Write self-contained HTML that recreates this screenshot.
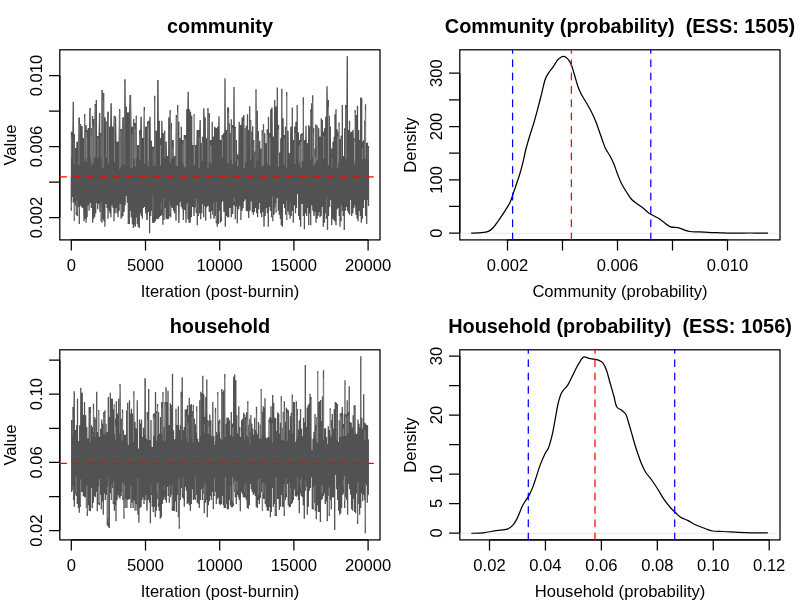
<!DOCTYPE html>
<html><head><meta charset="utf-8"><title>MCMC diagnostics</title><style>html,body{margin:0;padding:0;background:#fff;width:800px;height:600px;overflow:hidden}</style></head><body>
<svg width="800" height="600" viewBox="0 0 800 600" style="position:absolute;left:0;top:0">
<rect width="800" height="600" fill="#fff"/>
<g font-family='"Liberation Sans", Arial, Helvetica, sans-serif' font-size="16.60" fill="#000">
<rect x="59.80" y="49.80" width="320.20" height="190.10" fill="none" stroke="#000" stroke-width="1.25"/>
<path d="M71.30 239.90H368.10" stroke="#000" stroke-width="1.25" fill="none"/>
<path d="M71.30 239.90V250.60M145.50 239.90V250.60M219.70 239.90V250.60M293.90 239.90V250.60M368.10 239.90V250.60" stroke="#000" stroke-width="1.25" fill="none"/>
<text x="71.30" y="270.70" text-anchor="middle">0</text>
<text x="145.50" y="270.70" text-anchor="middle">5000</text>
<text x="219.70" y="270.70" text-anchor="middle">10000</text>
<text x="293.90" y="270.70" text-anchor="middle">15000</text>
<text x="368.10" y="270.70" text-anchor="middle">20000</text>
<text x="220" y="296.80" text-anchor="middle">Iteration (post-burnin)</text>
<text transform="translate(15.8 145.00) rotate(-90)" text-anchor="middle">Value</text>
<rect x="459.80" y="49.80" width="320.20" height="190.10" fill="none" stroke="#000" stroke-width="1.25"/>
<text transform="translate(415.8 145.00) rotate(-90)" text-anchor="middle">Density</text>
<rect x="59.80" y="349.80" width="320.20" height="190.10" fill="none" stroke="#000" stroke-width="1.25"/>
<path d="M71.30 539.90H368.10" stroke="#000" stroke-width="1.25" fill="none"/>
<path d="M71.30 539.90V550.60M145.50 539.90V550.60M219.70 539.90V550.60M293.90 539.90V550.60M368.10 539.90V550.60" stroke="#000" stroke-width="1.25" fill="none"/>
<text x="71.30" y="570.70" text-anchor="middle">0</text>
<text x="145.50" y="570.70" text-anchor="middle">5000</text>
<text x="219.70" y="570.70" text-anchor="middle">10000</text>
<text x="293.90" y="570.70" text-anchor="middle">15000</text>
<text x="368.10" y="570.70" text-anchor="middle">20000</text>
<text x="220" y="596.80" text-anchor="middle">Iteration (post-burnin)</text>
<text transform="translate(15.8 445.00) rotate(-90)" text-anchor="middle">Value</text>
<rect x="459.80" y="349.80" width="320.20" height="190.10" fill="none" stroke="#000" stroke-width="1.25"/>
<text transform="translate(415.8 445.00) rotate(-90)" text-anchor="middle">Density</text>
<path d="M59.80 217.50V75.50" stroke="#000" stroke-width="1.25" fill="none"/>
<path d="M59.80 217.50H49.10M59.80 182.00H49.10M59.80 146.50H49.10M59.80 111.00H49.10M59.80 75.50H49.10" stroke="#000" stroke-width="1.25" fill="none"/>
<text transform="translate(41.70 217.50) rotate(-90)" text-anchor="middle">0.002</text>
<text transform="translate(41.70 146.50) rotate(-90)" text-anchor="middle">0.006</text>
<text transform="translate(41.70 75.50) rotate(-90)" text-anchor="middle">0.010</text>
<path d="M59.80 530.71V360.01" stroke="#000" stroke-width="1.25" fill="none"/>
<path d="M59.80 530.71H49.10M59.80 496.57H49.10M59.80 462.43H49.10M59.80 428.29H49.10M59.80 394.15H49.10M59.80 360.01H49.10" stroke="#000" stroke-width="1.25" fill="none"/>
<text transform="translate(41.70 530.71) rotate(-90)" text-anchor="middle">0.02</text>
<text transform="translate(41.70 462.43) rotate(-90)" text-anchor="middle">0.06</text>
<text transform="translate(41.70 394.15) rotate(-90)" text-anchor="middle">0.10</text>
<path d="M459.80 233.10V73.20" stroke="#000" stroke-width="1.25" fill="none"/>
<path d="M459.80 233.10H449.10M459.80 206.45H449.10M459.80 179.80H449.10M459.80 153.15H449.10M459.80 126.50H449.10M459.80 99.85H449.10M459.80 73.20H449.10" stroke="#000" stroke-width="1.25" fill="none"/>
<text transform="translate(441.70 233.10) rotate(-90)" text-anchor="middle">0</text>
<text transform="translate(441.70 179.80) rotate(-90)" text-anchor="middle">100</text>
<text transform="translate(441.70 126.50) rotate(-90)" text-anchor="middle">200</text>
<text transform="translate(441.70 73.20) rotate(-90)" text-anchor="middle">300</text>
<path d="M507.50 239.90H727.50" stroke="#000" stroke-width="1.25" fill="none"/>
<path d="M507.50 239.90V250.60M562.50 239.90V250.60M617.50 239.90V250.60M672.50 239.90V250.60M727.50 239.90V250.60" stroke="#000" stroke-width="1.25" fill="none"/>
<text x="507.50" y="270.70" text-anchor="middle">0.002</text>
<text x="617.50" y="270.70" text-anchor="middle">0.006</text>
<text x="727.50" y="270.70" text-anchor="middle">0.010</text>
<text x="620" y="296.8" text-anchor="middle">Community (probability)</text>
<path d="M459.80 533.00V356.00" stroke="#000" stroke-width="1.25" fill="none"/>
<path d="M459.80 533.00H449.10M459.80 503.50H449.10M459.80 474.00H449.10M459.80 444.50H449.10M459.80 415.00H449.10M459.80 385.50H449.10M459.80 356.00H449.10" stroke="#000" stroke-width="1.25" fill="none"/>
<text transform="translate(441.70 533.00) rotate(-90)" text-anchor="middle">0</text>
<text transform="translate(441.70 503.50) rotate(-90)" text-anchor="middle">5</text>
<text transform="translate(441.70 474.00) rotate(-90)" text-anchor="middle">10</text>
<text transform="translate(441.70 415.00) rotate(-90)" text-anchor="middle">20</text>
<text transform="translate(441.70 356.00) rotate(-90)" text-anchor="middle">30</text>
<path d="M489.50 539.90H769.20" stroke="#000" stroke-width="1.25" fill="none"/>
<path d="M489.50 539.90V550.60M545.44 539.90V550.60M601.38 539.90V550.60M657.32 539.90V550.60M713.26 539.90V550.60M769.20 539.90V550.60" stroke="#000" stroke-width="1.25" fill="none"/>
<text x="489.50" y="570.70" text-anchor="middle">0.02</text>
<text x="545.44" y="570.70" text-anchor="middle">0.04</text>
<text x="601.38" y="570.70" text-anchor="middle">0.06</text>
<text x="657.32" y="570.70" text-anchor="middle">0.08</text>
<text x="713.26" y="570.70" text-anchor="middle">0.10</text>
<text x="769.20" y="570.70" text-anchor="middle">0.12</text>
<text x="620" y="596.8" text-anchor="middle">Household (probability)</text>
</g>
<g font-family='"Liberation Sans", Arial, Helvetica, sans-serif' font-size="19.90" font-weight="bold" fill="#000" text-anchor="middle">
<text x="220" y="32.7">community</text>
<text x="620" y="32.7" xml:space="preserve" style="white-space:pre">Community (probability)  (ESS: 1505)</text>
<text x="220" y="332.7">household</text>
<text x="620" y="332.7" xml:space="preserve" style="white-space:pre">Household (probability)  (ESS: 1056)</text>
</g>
<path d="M71.5,131.7 L72.0,131.7 L72.5,131.7 L73.0,101.7 L73.5,134.0 L74.0,134.0 L74.5,148.0 L75.0,148.0 L75.5,148.0 L76.0,148.0 L76.5,148.0 L77.0,141.7 L77.5,141.7 L78.0,141.7 L78.5,117.5 L79.0,117.5 L79.5,124.0 L80.0,124.0 L80.5,124.0 L81.0,126.0 L81.5,126.0 L82.0,126.0 L82.5,138.0 L83.0,138.0 L83.5,138.0 L84.0,138.0 L84.5,114.0 L85.0,125.0 L85.5,125.0 L86.0,125.0 L86.5,130.0 L87.0,130.0 L87.5,130.0 L88.0,130.0 L88.5,128.0 L89.0,128.0 L89.5,108.0 L90.0,108.0 L90.5,128.0 L91.0,128.0 L91.5,128.0 L92.0,128.0 L92.5,116.0 L93.0,119.0 L93.5,119.0 L94.0,119.0 L94.5,119.0 L95.0,104.0 L95.5,104.0 L96.0,104.0 L96.5,100.0 L97.0,136.0 L97.5,136.0 L98.0,136.0 L98.5,136.0 L99.0,113.0 L99.5,113.0 L100.0,133.0 L100.5,133.0 L101.0,133.0 L101.5,133.0 L102.0,90.0 L102.5,90.0 L103.0,93.0 L103.5,93.0 L104.0,117.5 L104.5,117.5 L105.0,117.5 L105.5,121.7 L106.0,121.7 L106.5,121.7 L107.0,121.7 L107.5,111.7 L108.0,111.7 L108.5,111.7 L109.0,126.7 L109.5,126.7 L110.0,126.7 L110.5,126.7 L111.0,103.3 L111.5,103.3 L112.0,126.7 L112.5,126.7 L113.0,126.7 L113.5,126.7 L114.0,115.8 L114.5,116.7 L115.0,116.7 L115.5,116.7 L116.0,116.7 L116.5,141.7 L117.0,141.7 L117.5,141.7 L118.0,141.7 L118.5,141.7 L119.0,109.0 L119.5,109.0 L120.0,129.0 L120.5,129.0 L121.0,129.0 L121.5,129.0 L122.0,129.0 L122.5,117.5 L123.0,117.5 L123.5,117.5 L124.0,117.5 L124.5,79.2 L125.0,79.2 L125.5,106.7 L126.0,106.7 L126.5,106.7 L127.0,112.5 L127.5,112.5 L128.0,112.5 L128.5,112.5 L129.0,112.5 L129.5,95.0 L130.0,95.0 L130.5,95.0 L131.0,95.0 L131.5,126.7 L132.0,126.7 L132.5,126.7 L133.0,126.7 L133.5,119.0 L134.0,123.0 L134.5,123.0 L135.0,123.0 L135.5,123.0 L136.0,123.0 L136.5,115.8 L137.0,145.0 L137.5,145.0 L138.0,145.0 L138.5,145.0 L139.0,145.0 L139.5,130.0 L140.0,130.0 L140.5,130.0 L141.0,116.7 L141.5,116.7 L142.0,138.0 L142.5,138.0 L143.0,138.0 L143.5,138.0 L144.0,107.0 L144.5,107.0 L145.0,126.7 L145.5,126.7 L146.0,126.7 L146.5,126.7 L147.0,126.7 L147.5,121.7 L148.0,121.7 L148.5,121.7 L149.0,120.8 L149.5,120.8 L150.0,116.7 L150.5,140.8 L151.0,140.8 L151.5,140.8 L152.0,146.7 L152.5,146.7 L153.0,146.7 L153.5,146.7 L154.0,146.7 L154.5,95.8 L155.0,130.8 L155.5,130.8 L156.0,130.8 L156.5,130.8 L157.0,130.8 L157.5,80.0 L158.0,80.0 L158.5,120.8 L159.0,120.8 L159.5,138.3 L160.0,138.3 L160.5,138.3 L161.0,138.3 L161.5,138.3 L162.0,120.8 L162.5,133.3 L163.0,133.3 L163.5,133.3 L164.0,133.3 L164.5,130.5 L165.0,141.7 L165.5,141.7 L166.0,141.7 L166.5,141.7 L167.0,156.0 L167.5,156.0 L168.0,156.0 L168.5,156.0 L169.0,117.5 L169.5,117.5 L170.0,110.0 L170.5,123.3 L171.0,123.3 L171.5,123.3 L172.0,140.0 L172.5,140.0 L173.0,140.0 L173.5,140.0 L174.0,156.0 L174.5,156.0 L175.0,156.0 L175.5,156.0 L176.0,115.0 L176.5,115.0 L177.0,115.0 L177.5,105.0 L178.0,121.7 L178.5,121.7 L179.0,138.3 L179.5,138.3 L180.0,138.3 L180.5,138.3 L181.0,138.3 L181.5,126.7 L182.0,140.0 L182.5,140.0 L183.0,140.0 L183.5,140.0 L184.0,140.0 L184.5,135.0 L185.0,135.0 L185.5,135.0 L186.0,135.0 L186.5,135.0 L187.0,109.2 L187.5,109.2 L188.0,91.7 L188.5,109.2 L189.0,109.2 L189.5,111.7 L190.0,111.7 L190.5,111.7 L191.0,115.8 L191.5,115.8 L192.0,145.0 L192.5,145.0 L193.0,145.0 L193.5,145.0 L194.0,145.0 L194.5,145.0 L195.0,145.0 L195.5,145.0 L196.0,145.0 L196.5,145.0 L197.0,130.0 L197.5,130.0 L198.0,130.0 L198.5,130.0 L199.0,130.0 L199.5,130.0 L200.0,120.0 L200.5,143.3 L201.0,143.3 L201.5,143.3 L202.0,143.3 L202.5,136.7 L203.0,136.7 L203.5,136.7 L204.0,108.3 L204.5,117.5 L205.0,117.5 L205.5,138.3 L206.0,138.3 L206.5,138.3 L207.0,138.3 L207.5,108.3 L208.0,108.3 L208.5,113.3 L209.0,113.3 L209.5,113.3 L210.0,140.0 L210.5,140.0 L211.0,140.0 L211.5,140.0 L212.0,140.0 L212.5,136.7 L213.0,136.7 L213.5,136.7 L214.0,136.7 L214.5,136.7 L215.0,126.7 L215.5,128.3 L216.0,128.3 L216.5,128.3 L217.0,128.3 L217.5,126.7 L218.0,126.7 L218.5,126.7 L219.0,116.3 L219.5,140.0 L220.0,140.0 L220.5,140.0 L221.0,140.0 L221.5,140.0 L222.0,135.0 L222.5,135.0 L223.0,135.0 L223.5,133.3 L224.0,133.3 L224.5,133.3 L225.0,78.3 L225.5,130.0 L226.0,130.0 L226.5,130.0 L227.0,130.0 L227.5,107.5 L228.0,107.5 L228.5,123.3 L229.0,123.3 L229.5,133.3 L230.0,133.3 L230.5,133.3 L231.0,133.3 L231.5,125.0 L232.0,125.0 L232.5,125.0 L233.0,125.0 L233.5,125.0 L234.0,87.0 L234.5,126.7 L235.0,126.7 L235.5,140.0 L236.0,140.0 L236.5,140.0 L237.0,156.0 L237.5,156.0 L238.0,156.0 L238.5,156.0 L239.0,121.7 L239.5,125.0 L240.0,125.0 L240.5,125.0 L241.0,125.0 L241.5,125.0 L242.0,117.5 L242.5,117.5 L243.0,117.5 L243.5,115.0 L244.0,115.0 L244.5,128.3 L245.0,128.3 L245.5,128.3 L246.0,128.3 L246.5,125.8 L247.0,125.8 L247.5,130.0 L248.0,130.0 L248.5,130.0 L249.0,130.0 L249.5,130.0 L250.0,120.0 L250.5,120.0 L251.0,131.7 L251.5,131.7 L252.0,131.7 L252.5,131.7 L253.0,140.0 L253.5,140.0 L254.0,156.0 L254.5,156.0 L255.0,156.0 L255.5,156.0 L256.0,89.2 L256.5,110.8 L257.0,110.8 L257.5,131.3 L258.0,131.3 L258.5,131.3 L259.0,140.8 L259.5,140.8 L260.0,156.0 L260.5,156.0 L261.0,156.0 L261.5,156.0 L262.0,156.0 L262.5,130.0 L263.0,130.0 L263.5,124.2 L264.0,133.3 L264.5,133.3 L265.0,143.3 L265.5,143.3 L266.0,143.3 L266.5,143.3 L267.0,143.3 L267.5,129.2 L268.0,129.2 L268.5,116.7 L269.0,133.3 L269.5,133.3 L270.0,133.3 L270.5,133.3 L271.0,109.2 L271.5,109.2 L272.0,107.5 L272.5,136.7 L273.0,136.7 L273.5,136.7 L274.0,136.7 L274.5,100.0 L275.0,106.7 L275.5,106.7 L276.0,106.7 L276.5,106.7 L277.0,106.7 L277.5,125.0 L278.0,125.0 L278.5,125.0 L279.0,156.0 L279.5,156.0 L280.0,156.0 L280.5,156.0 L281.0,138.3 L281.5,138.3 L282.0,118.3 L282.5,118.3 L283.0,118.3 L283.5,135.0 L284.0,135.0 L284.5,135.0 L285.0,135.0 L285.5,126.7 L286.0,126.7 L286.5,126.7 L287.0,130.8 L287.5,130.8 L288.0,130.8 L288.5,156.0 L289.0,156.0 L289.5,156.0 L290.0,156.0 L290.5,126.7 L291.0,126.7 L291.5,126.7 L292.0,126.7 L292.5,140.0 L293.0,140.0 L293.5,140.0 L294.0,140.0 L294.5,140.0 L295.0,126.7 L295.5,126.7 L296.0,121.7 L296.5,121.7 L297.0,121.7 L297.5,132.5 L298.0,132.5 L298.5,132.5 L299.0,140.0 L299.5,140.0 L300.0,140.0 L300.5,140.0 L301.0,134.2 L301.5,134.2 L302.0,133.3 L302.5,133.3 L303.0,133.3 L303.5,97.2 L304.0,140.0 L304.5,140.0 L305.0,140.0 L305.5,140.0 L306.0,125.8 L306.5,143.3 L307.0,143.3 L307.5,143.3 L308.0,143.3 L308.5,125.3 L309.0,126.7 L309.5,126.7 L310.0,126.7 L310.5,126.7 L311.0,109.2 L311.5,109.2 L312.0,103.3 L312.5,103.3 L313.0,128.3 L313.5,128.3 L314.0,156.0 L314.5,156.0 L315.0,156.0 L315.5,156.0 L316.0,156.0 L316.5,125.8 L317.0,125.8 L317.5,125.8 L318.0,128.3 L318.5,128.3 L319.0,136.7 L319.5,136.7 L320.0,136.7 L320.5,136.7 L321.0,136.7 L321.5,120.0 L322.0,120.0 L322.5,131.7 L323.0,131.7 L323.5,131.7 L324.0,131.7 L324.5,128.3 L325.0,128.3 L325.5,128.3 L326.0,116.7 L326.5,116.7 L327.0,86.3 L327.5,100.0 L328.0,100.0 L328.5,115.8 L329.0,115.8 L329.5,126.7 L330.0,126.7 L330.5,126.7 L331.0,156.0 L331.5,156.0 L332.0,156.0 L332.5,156.0 L333.0,141.7 L333.5,141.7 L334.0,141.7 L334.5,136.7 L335.0,136.7 L335.5,114.2 L336.0,129.2 L336.5,129.2 L337.0,131.7 L337.5,131.7 L338.0,131.7 L338.5,131.7 L339.0,139.2 L339.5,139.2 L340.0,139.2 L340.5,139.2 L341.0,139.2 L341.5,135.8 L342.0,135.8 L342.5,105.0 L343.0,156.0 L343.5,156.0 L344.0,156.0 L344.5,156.0 L345.0,128.3 L345.5,128.3 L346.0,105.0 L346.5,105.0 L347.0,56.3 L347.5,56.3 L348.0,130.0 L348.5,130.0 L349.0,130.0 L349.5,132.5 L350.0,132.5 L350.5,132.5 L351.0,132.5 L351.5,131.7 L352.0,131.7 L352.5,131.7 L353.0,130.0 L353.5,138.3 L354.0,138.3 L354.5,138.3 L355.0,138.3 L355.5,115.0 L356.0,115.0 L356.5,115.0 L357.0,115.0 L357.5,105.8 L358.0,130.0 L358.5,130.0 L359.0,140.0 L359.5,140.0 L360.0,140.0 L360.5,140.0 L361.0,98.3 L361.5,98.3 L362.0,141.7 L362.5,141.7 L363.0,141.7 L363.5,141.7 L364.0,140.0 L364.5,140.0 L365.0,120.8 L365.5,120.8 L366.0,143.3 L366.5,143.3 L367.0,143.3 L367.5,146.0 L368.0,146.0 L368.0,200.0 L367.5,200.0 L367.0,200.0 L366.5,216.0 L366.0,216.0 L365.5,200.0 L365.0,200.0 L364.5,200.0 L364.0,200.0 L363.5,200.0 L363.0,208.0 L362.5,208.0 L362.0,218.7 L361.5,218.7 L361.0,216.0 L360.5,216.0 L360.0,210.7 L359.5,210.7 L359.0,210.7 L358.5,210.7 L358.0,218.7 L357.5,218.7 L357.0,214.7 L356.5,214.7 L356.0,214.7 L355.5,205.3 L355.0,205.3 L354.5,205.3 L354.0,205.3 L353.5,208.0 L353.0,208.0 L352.5,213.3 L352.0,213.3 L351.5,200.0 L351.0,200.0 L350.5,200.0 L350.0,200.0 L349.5,213.3 L349.0,213.3 L348.5,210.7 L348.0,210.7 L347.5,210.7 L347.0,206.7 L346.5,206.7 L346.0,206.7 L345.5,206.7 L345.0,210.7 L344.5,210.7 L344.0,216.0 L343.5,216.0 L343.0,210.7 L342.5,210.7 L342.0,210.7 L341.5,210.7 L341.0,221.3 L340.5,221.3 L340.0,216.0 L339.5,216.0 L339.0,208.0 L338.5,208.0 L338.0,208.0 L337.5,208.0 L337.0,209.3 L336.5,209.3 L336.0,225.3 L335.5,221.3 L335.0,221.3 L334.5,220.0 L334.0,220.0 L333.5,218.7 L333.0,218.7 L332.5,218.7 L332.0,218.7 L331.5,200.0 L331.0,200.0 L330.5,200.0 L330.0,200.0 L329.5,206.7 L329.0,206.7 L328.5,216.0 L328.0,216.0 L327.5,216.0 L327.0,218.7 L326.5,218.7 L326.0,213.3 L325.5,213.3 L325.0,213.3 L324.5,213.3 L324.0,222.7 L323.5,222.7 L323.0,206.7 L322.5,206.7 L322.0,206.7 L321.5,206.7 L321.0,216.0 L320.5,216.0 L320.0,212.0 L319.5,212.0 L319.0,212.0 L318.5,212.0 L318.0,216.0 L317.5,216.0 L317.0,216.0 L316.5,218.7 L316.0,212.0 L315.5,212.0 L315.0,212.0 L314.5,212.0 L314.0,216.0 L313.5,210.7 L313.0,210.7 L312.5,205.3 L312.0,205.3 L311.5,205.3 L311.0,205.3 L310.5,213.3 L310.0,213.3 L309.5,213.3 L309.0,213.3 L308.5,208.0 L308.0,208.0 L307.5,208.0 L307.0,208.0 L306.5,213.3 L306.0,213.3 L305.5,213.3 L305.0,213.3 L304.5,229.3 L304.0,216.0 L303.5,216.0 L303.0,204.0 L302.5,204.0 L302.0,204.0 L301.5,204.0 L301.0,204.0 L300.5,220.0 L300.0,220.0 L299.5,216.0 L299.0,216.0 L298.5,194.0 L298.0,194.0 L297.5,194.0 L297.0,194.0 L296.5,208.0 L296.0,208.0 L295.5,208.0 L295.0,205.3 L294.5,205.3 L294.0,205.3 L293.5,205.3 L293.0,210.7 L292.5,210.7 L292.0,210.7 L291.5,210.7 L291.0,216.0 L290.5,216.0 L290.0,214.7 L289.5,214.7 L289.0,211.3 L288.5,211.3 L288.0,211.3 L287.5,211.3 L287.0,211.3 L286.5,214.7 L286.0,214.7 L285.5,208.0 L285.0,208.0 L284.5,204.0 L284.0,204.0 L283.5,204.0 L283.0,204.0 L282.5,204.0 L282.0,225.3 L281.5,225.3 L281.0,218.7 L280.5,218.7 L280.0,214.7 L279.5,214.7 L279.0,210.7 L278.5,210.7 L278.0,198.0 L277.5,198.0 L277.0,198.0 L276.5,198.0 L276.0,207.3 L275.5,207.3 L275.0,207.3 L274.5,207.3 L274.0,214.7 L273.5,214.7 L273.0,214.7 L272.5,217.3 L272.0,217.3 L271.5,217.3 L271.0,210.7 L270.5,210.7 L270.0,206.7 L269.5,206.7 L269.0,206.7 L268.5,206.7 L268.0,213.3 L267.5,213.3 L267.0,208.0 L266.5,208.0 L266.0,208.0 L265.5,208.0 L265.0,216.0 L264.5,216.0 L264.0,226.7 L263.5,212.0 L263.0,212.0 L262.5,212.0 L262.0,212.0 L261.5,213.3 L261.0,213.3 L260.5,202.7 L260.0,202.7 L259.5,202.7 L259.0,202.7 L258.5,209.3 L258.0,209.3 L257.5,213.3 L257.0,213.3 L256.5,208.0 L256.0,208.0 L255.5,208.0 L255.0,208.0 L254.5,212.0 L254.0,212.0 L253.5,212.0 L253.0,212.0 L252.5,212.0 L252.0,201.3 L251.5,201.3 L251.0,201.3 L250.5,201.3 L250.0,210.7 L249.5,210.7 L249.0,210.7 L248.5,218.0 L248.0,211.3 L247.5,211.3 L247.0,210.7 L246.5,210.7 L246.0,199.3 L245.5,199.3 L245.0,199.3 L244.5,199.3 L244.0,201.3 L243.5,201.3 L243.0,201.3 L242.5,208.0 L242.0,210.7 L241.5,210.7 L241.0,210.7 L240.5,206.0 L240.0,206.0 L239.5,206.0 L239.0,206.0 L238.5,209.3 L238.0,209.3 L237.5,223.3 L237.0,206.7 L236.5,206.7 L236.0,206.7 L235.5,206.7 L235.0,205.3 L234.5,205.3 L234.0,205.3 L233.5,205.3 L233.0,205.3 L232.5,214.0 L232.0,214.0 L231.5,217.3 L231.0,208.0 L230.5,208.0 L230.0,208.0 L229.5,208.0 L229.0,208.0 L228.5,217.3 L228.0,217.3 L227.5,216.0 L227.0,216.0 L226.5,216.0 L226.0,216.0 L225.5,226.7 L225.0,212.0 L224.5,212.0 L224.0,212.0 L223.5,201.3 L223.0,201.3 L222.5,201.3 L222.0,201.3 L221.5,221.3 L221.0,221.3 L220.5,221.3 L220.0,210.7 L219.5,210.7 L219.0,210.7 L218.5,210.7 L218.0,224.0 L217.5,224.0 L217.0,223.3 L216.5,223.3 L216.0,216.0 L215.5,216.0 L215.0,216.0 L214.5,216.0 L214.0,218.7 L213.5,214.7 L213.0,214.7 L212.5,210.7 L212.0,210.7 L211.5,210.7 L211.0,210.7 L210.5,218.7 L210.0,212.0 L209.5,212.0 L209.0,206.0 L208.5,206.0 L208.0,206.0 L207.5,206.0 L207.0,206.0 L206.5,207.3 L206.0,207.3 L205.5,206.0 L205.0,206.0 L204.5,206.0 L204.0,206.0 L203.5,204.0 L203.0,204.0 L202.5,204.0 L202.0,204.0 L201.5,213.3 L201.0,213.3 L200.5,213.3 L200.0,213.3 L199.5,213.3 L199.0,213.3 L198.5,213.3 L198.0,216.0 L197.5,216.0 L197.0,212.7 L196.5,212.7 L196.0,207.3 L195.5,207.3 L195.0,207.3 L194.5,207.3 L194.0,216.0 L193.5,206.7 L193.0,206.7 L192.5,206.7 L192.0,206.7 L191.5,217.3 L191.0,217.3 L190.5,217.3 L190.0,222.7 L189.5,222.7 L189.0,219.3 L188.5,219.3 L188.0,203.3 L187.5,203.3 L187.0,203.3 L186.5,203.3 L186.0,222.7 L185.5,210.0 L185.0,210.0 L184.5,210.0 L184.0,210.0 L183.5,220.0 L183.0,208.7 L182.5,208.7 L182.0,206.7 L181.5,206.7 L181.0,202.0 L180.5,202.0 L180.0,202.0 L179.5,202.0 L179.0,222.7 L178.5,222.7 L178.0,205.3 L177.5,205.3 L177.0,205.3 L176.5,205.3 L176.0,220.7 L175.5,213.3 L175.0,213.3 L174.5,210.7 L174.0,210.7 L173.5,208.0 L173.0,208.0 L172.5,207.3 L172.0,207.3 L171.5,207.3 L171.0,207.3 L170.5,216.0 L170.0,216.0 L169.5,216.0 L169.0,216.0 L168.5,218.7 L168.0,218.7 L167.5,219.3 L167.0,218.7 L166.5,218.7 L166.0,208.0 L165.5,208.0 L165.0,208.0 L164.5,208.0 L164.0,220.0 L163.5,220.0 L163.0,220.0 L162.5,214.7 L162.0,214.7 L161.5,214.7 L161.0,214.7 L160.5,216.0 L160.0,216.0 L159.5,217.3 L159.0,217.3 L158.5,217.3 L158.0,219.3 L157.5,218.7 L157.0,218.7 L156.5,218.7 L156.0,218.7 L155.5,221.3 L155.0,221.3 L154.5,221.3 L154.0,222.7 L153.5,222.7 L153.0,222.7 L152.5,210.7 L152.0,210.7 L151.5,210.7 L151.0,210.7 L150.5,216.0 L150.0,216.0 L149.5,212.0 L149.0,212.0 L148.5,212.0 L148.0,212.0 L147.5,220.0 L147.0,220.0 L146.5,213.3 L146.0,213.3 L145.5,206.7 L145.0,206.7 L144.5,206.7 L144.0,206.7 L143.5,208.0 L143.0,208.0 L142.5,208.0 L142.0,216.0 L141.5,216.0 L141.0,213.3 L140.5,213.3 L140.0,213.3 L139.5,213.3 L139.0,226.7 L138.5,226.7 L138.0,224.0 L137.5,224.0 L137.0,217.3 L136.5,217.3 L136.0,217.3 L135.5,217.3 L135.0,225.3 L134.5,225.3 L134.0,225.3 L133.5,225.3 L133.0,224.0 L132.5,224.0 L132.0,217.3 L131.5,217.3 L131.0,210.7 L130.5,210.7 L130.0,210.7 L129.5,210.7 L129.0,224.0 L128.5,224.0 L128.0,202.7 L127.5,202.7 L127.0,196.0 L126.5,196.0 L126.0,196.0 L125.5,196.0 L125.0,205.3 L124.5,205.3 L124.0,212.0 L123.5,212.0 L123.0,212.0 L122.5,216.0 L122.0,216.0 L121.5,217.3 L121.0,204.0 L120.5,204.0 L120.0,204.0 L119.5,204.0 L119.0,204.0 L118.5,210.7 L118.0,213.3 L117.5,213.3 L117.0,208.0 L116.5,208.0 L116.0,208.0 L115.5,208.0 L115.0,208.0 L114.5,213.3 L114.0,208.0 L113.5,208.0 L113.0,205.3 L112.5,205.3 L112.0,205.3 L111.5,205.3 L111.0,205.3 L110.5,213.3 L110.0,210.7 L109.5,210.7 L109.0,210.7 L108.5,210.7 L108.0,208.0 L107.5,208.0 L107.0,204.0 L106.5,204.0 L106.0,204.0 L105.5,204.0 L105.0,204.0 L104.5,221.3 L104.0,221.3 L103.5,218.7 L103.0,218.7 L102.5,218.7 L102.0,218.7 L101.5,221.3 L101.0,212.0 L100.5,212.0 L100.0,212.0 L99.5,204.0 L99.0,204.0 L98.5,204.0 L98.0,204.0 L97.5,202.7 L97.0,202.7 L96.5,202.7 L96.0,202.7 L95.5,213.3 L95.0,213.3 L94.5,216.7 L94.0,216.7 L93.5,218.7 L93.0,218.7 L92.5,222.7 L92.0,208.0 L91.5,208.0 L91.0,202.7 L90.5,202.7 L90.0,202.7 L89.5,202.7 L89.0,202.7 L88.5,205.3 L88.0,205.3 L87.5,205.3 L87.0,205.3 L86.5,217.3 L86.0,218.7 L85.5,218.7 L85.0,218.7 L84.5,218.7 L84.0,218.7 L83.5,208.0 L83.0,208.0 L82.5,208.0 L82.0,206.7 L81.5,206.7 L81.0,205.3 L80.5,205.3 L80.0,205.3 L79.5,205.3 L79.0,206.7 L78.5,206.7 L78.0,206.7 L77.5,206.7 L77.0,214.7 L76.5,214.7 L76.0,205.3 L75.5,205.3 L75.0,205.3 L74.5,205.3 L74.0,202.7 L73.5,202.7 L73.0,197.0 L72.5,197.0 L72.0,197.0 L71.5,197.0Z" fill="#525252"/>
<path d="M71.7,420.0 L72.2,420.0 L72.7,420.0 L73.2,407.0 L73.7,407.0 L74.2,391.2 L74.7,430.3 L75.2,430.3 L75.7,430.3 L76.2,430.3 L76.7,425.3 L77.2,425.3 L77.7,441.2 L78.2,441.2 L78.7,441.2 L79.2,441.2 L79.7,441.2 L80.2,425.3 L80.7,425.3 L81.2,392.8 L81.7,392.8 L82.2,392.8 L82.7,415.0 L83.2,415.0 L83.7,415.0 L84.2,415.0 L84.7,415.3 L85.2,415.3 L85.7,415.3 L86.2,427.3 L86.7,427.3 L87.2,438.7 L87.7,438.7 L88.2,438.7 L88.7,438.7 L89.2,407.0 L89.7,407.0 L90.2,407.0 L90.7,425.3 L91.2,425.3 L91.7,427.0 L92.2,427.0 L92.7,427.0 L93.2,427.0 L93.7,417.0 L94.2,417.0 L94.7,419.5 L95.2,419.5 L95.7,419.5 L96.2,419.5 L96.7,432.0 L97.2,432.0 L97.7,432.0 L98.2,432.0 L98.7,437.0 L99.2,437.0 L99.7,437.0 L100.2,437.0 L100.7,437.0 L101.2,428.7 L101.7,428.7 L102.2,423.7 L102.7,423.7 L103.2,423.7 L103.7,423.7 L104.2,412.0 L104.7,412.0 L105.2,423.7 L105.7,423.7 L106.2,432.0 L106.7,432.0 L107.2,432.0 L107.7,432.0 L108.2,432.0 L108.7,417.0 L109.2,417.0 L109.7,417.0 L110.2,417.0 L110.7,398.7 L111.2,398.7 L111.7,398.7 L112.2,398.7 L112.7,409.5 L113.2,409.5 L113.7,409.5 L114.2,409.5 L114.7,418.7 L115.2,418.7 L115.7,418.7 L116.2,418.7 L116.7,413.7 L117.2,413.7 L117.7,413.7 L118.2,413.7 L118.7,398.7 L119.2,398.7 L119.7,398.7 L120.2,384.0 L120.7,418.7 L121.2,418.7 L121.7,418.7 L122.2,418.7 L122.7,430.3 L123.2,430.3 L123.7,435.3 L124.2,435.3 L124.7,435.3 L125.2,435.3 L125.7,435.3 L126.2,434.5 L126.7,434.5 L127.2,410.3 L127.7,445.3 L128.2,445.3 L128.7,445.3 L129.2,445.3 L129.7,413.7 L130.2,413.7 L130.7,413.7 L131.2,413.7 L131.7,413.7 L132.2,413.7 L132.7,413.7 L133.2,413.7 L133.7,413.7 L134.2,422.0 L134.7,422.0 L135.2,428.7 L135.7,428.7 L136.2,428.7 L136.7,428.7 L137.2,428.7 L137.7,448.7 L138.2,448.7 L138.7,448.7 L139.2,448.7 L139.7,423.7 L140.2,423.7 L140.7,423.7 L141.2,423.7 L141.7,437.0 L142.2,437.0 L142.7,437.0 L143.2,437.0 L143.7,427.8 L144.2,427.8 L144.7,378.3 L145.2,378.3 L145.7,438.7 L146.2,438.7 L146.7,438.7 L147.2,438.7 L147.7,412.0 L148.2,412.0 L148.7,389.0 L149.2,440.3 L149.7,440.3 L150.2,440.3 L150.7,440.3 L151.2,447.0 L151.7,447.0 L152.2,447.0 L152.7,447.0 L153.2,447.0 L153.7,414.0 L154.2,414.0 L154.7,413.3 L155.2,413.3 L155.7,411.2 L156.2,411.2 L156.7,411.2 L157.2,411.2 L157.7,412.0 L158.2,412.0 L158.7,433.7 L159.2,433.7 L159.7,433.7 L160.2,433.7 L160.7,417.0 L161.2,417.0 L161.7,402.0 L162.2,402.0 L162.7,402.0 L163.2,427.0 L163.7,427.0 L164.2,427.0 L164.7,427.0 L165.2,427.0 L165.7,402.0 L166.2,402.0 L166.7,402.0 L167.2,402.0 L167.7,402.0 L168.2,425.3 L168.7,425.3 L169.2,425.3 L169.7,425.3 L170.2,425.3 L170.7,405.3 L171.2,405.3 L171.7,405.3 L172.2,405.3 L172.7,430.3 L173.2,430.3 L173.7,439.5 L174.2,439.5 L174.7,439.5 L175.2,439.5 L175.7,439.5 L176.2,425.3 L176.7,425.3 L177.2,425.3 L177.7,425.3 L178.2,425.3 L178.7,430.3 L179.2,430.3 L179.7,430.3 L180.2,430.3 L180.7,425.3 L181.2,425.3 L181.7,391.7 L182.2,391.7 L182.7,430.3 L183.2,430.3 L183.7,430.3 L184.2,430.3 L184.7,427.0 L185.2,427.0 L185.7,409.5 L186.2,409.5 L186.7,409.5 L187.2,409.5 L187.7,415.3 L188.2,415.3 L188.7,415.3 L189.2,415.3 L189.7,405.3 L190.2,405.3 L190.7,405.3 L191.2,405.3 L191.7,411.2 L192.2,411.2 L192.7,411.2 L193.2,411.2 L193.7,418.7 L194.2,418.7 L194.7,424.5 L195.2,424.5 L195.7,424.5 L196.2,424.5 L196.7,438.7 L197.2,438.7 L197.7,442.0 L198.2,442.0 L198.7,442.0 L199.2,442.0 L199.7,442.0 L200.2,400.3 L200.7,400.3 L201.2,393.3 L201.7,393.3 L202.2,393.3 L202.7,393.3 L203.2,394.5 L203.7,394.5 L204.2,417.0 L204.7,417.0 L205.2,417.0 L205.7,417.0 L206.2,397.0 L206.7,397.0 L207.2,420.3 L207.7,420.3 L208.2,421.2 L208.7,421.2 L209.2,421.2 L209.7,421.2 L210.2,420.3 L210.7,420.3 L211.2,436.2 L211.7,436.2 L212.2,436.2 L212.7,436.2 L213.2,436.2 L213.7,445.3 L214.2,445.3 L214.7,445.3 L215.2,445.3 L215.7,445.3 L216.2,432.0 L216.7,432.0 L217.2,432.0 L217.7,432.0 L218.2,421.2 L218.7,421.2 L219.2,421.2 L219.7,438.7 L220.2,438.7 L220.7,438.7 L221.2,438.7 L221.7,438.7 L222.2,392.0 L222.7,392.0 L223.2,392.0 L223.7,392.0 L224.2,390.3 L224.7,390.3 L225.2,424.5 L225.7,424.5 L226.2,424.5 L226.7,424.5 L227.2,417.8 L227.7,417.8 L228.2,417.8 L228.7,420.3 L229.2,420.3 L229.7,435.3 L230.2,435.3 L230.7,435.3 L231.2,435.3 L231.7,423.7 L232.2,423.7 L232.7,423.7 L233.2,423.7 L233.7,376.7 L234.2,376.7 L234.7,376.7 L235.2,380.3 L235.7,380.3 L236.2,415.3 L236.7,415.3 L237.2,433.7 L237.7,433.7 L238.2,433.7 L238.7,433.7 L239.2,427.0 L239.7,437.0 L240.2,437.0 L240.7,437.0 L241.2,437.0 L241.7,437.0 L242.2,420.3 L242.7,420.3 L243.2,418.7 L243.7,418.7 L244.2,414.5 L244.7,417.0 L245.2,417.0 L245.7,417.0 L246.2,417.0 L246.7,417.0 L247.2,412.3 L247.7,412.3 L248.2,425.3 L248.7,425.3 L249.2,425.3 L249.7,425.3 L250.2,418.7 L250.7,418.7 L251.2,423.7 L251.7,423.7 L252.2,428.7 L252.7,428.7 L253.2,435.3 L253.7,435.3 L254.2,435.3 L254.7,435.3 L255.2,430.3 L255.7,430.3 L256.2,430.3 L256.7,434.5 L257.2,434.5 L257.7,434.5 L258.2,434.5 L258.7,438.7 L259.2,438.7 L259.7,438.7 L260.2,438.7 L260.7,424.5 L261.2,424.5 L261.7,412.0 L262.2,412.0 L262.7,412.0 L263.2,412.0 L263.7,407.8 L264.2,407.8 L264.7,407.8 L265.2,437.8 L265.7,437.8 L266.2,438.7 L266.7,438.7 L267.2,438.7 L267.7,438.7 L268.2,437.0 L268.7,437.0 L269.2,419.5 L269.7,419.5 L270.2,417.0 L270.7,417.0 L271.2,418.7 L271.7,418.7 L272.2,418.7 L272.7,418.7 L273.2,402.8 L273.7,417.8 L274.2,417.8 L274.7,418.3 L275.2,418.3 L275.7,431.2 L276.2,431.2 L276.7,431.2 L277.2,431.2 L277.7,431.2 L278.2,413.7 L278.7,433.7 L279.2,433.7 L279.7,433.7 L280.2,433.7 L280.7,433.7 L281.2,422.8 L281.7,427.8 L282.2,427.8 L282.7,427.8 L283.2,427.8 L283.7,412.0 L284.2,412.0 L284.7,422.0 L285.2,422.0 L285.7,422.0 L286.2,422.0 L286.7,409.5 L287.2,409.5 L287.7,410.3 L288.2,410.3 L288.7,430.3 L289.2,430.3 L289.7,430.3 L290.2,430.3 L290.7,416.2 L291.2,416.2 L291.7,412.8 L292.2,412.8 L292.7,402.0 L293.2,402.0 L293.7,402.0 L294.2,402.0 L294.7,442.0 L295.2,442.0 L295.7,442.0 L296.2,442.0 L296.7,408.7 L297.2,408.7 L297.7,429.5 L298.2,429.5 L298.7,429.5 L299.2,429.5 L299.7,420.3 L300.2,420.3 L300.7,428.7 L301.2,428.7 L301.7,436.2 L302.2,436.2 L302.7,436.2 L303.2,436.2 L303.7,422.0 L304.2,422.0 L304.7,422.0 L305.2,422.0 L305.7,427.0 L306.2,427.0 L306.7,427.0 L307.2,427.0 L307.7,407.8 L308.2,407.8 L308.7,405.3 L309.2,405.3 L309.7,403.7 L310.2,403.7 L310.7,397.0 L311.2,450.3 L311.7,450.3 L312.2,450.3 L312.7,450.3 L313.2,438.7 L313.7,438.7 L314.2,432.0 L314.7,432.0 L315.2,425.3 L315.7,425.3 L316.2,425.3 L316.7,425.3 L317.2,417.0 L317.7,417.0 L318.2,402.0 L318.7,402.0 L319.2,402.0 L319.7,402.0 L320.2,401.2 L320.7,421.2 L321.2,421.2 L321.7,421.2 L322.2,421.2 L322.7,421.2 L323.2,396.2 L323.7,428.7 L324.2,428.7 L324.7,428.7 L325.2,428.7 L325.7,437.0 L326.2,437.0 L326.7,444.5 L327.2,444.5 L327.7,444.5 L328.2,444.5 L328.7,430.3 L329.2,430.3 L329.7,430.3 L330.2,430.3 L330.7,420.0 L331.2,420.0 L331.7,420.0 L332.2,420.0 L332.7,428.7 L333.2,428.7 L333.7,428.7 L334.2,428.7 L334.7,409.0 L335.2,409.0 L335.7,402.8 L336.2,402.8 L336.7,404.0 L337.2,404.0 L337.7,442.0 L338.2,442.0 L338.7,442.0 L339.2,442.0 L339.7,420.3 L340.2,420.3 L340.7,413.7 L341.2,413.7 L341.7,412.8 L342.2,412.8 L342.7,424.0 L343.2,424.0 L343.7,424.0 L344.2,424.0 L344.7,414.0 L345.2,414.5 L345.7,414.5 L346.2,414.5 L346.7,414.5 L347.2,414.5 L347.7,412.0 L348.2,412.0 L348.7,412.0 L349.2,422.0 L349.7,422.0 L350.2,422.8 L350.7,422.8 L351.2,427.8 L351.7,427.8 L352.2,427.8 L352.7,427.8 L353.2,427.8 L353.7,415.3 L354.2,415.3 L354.7,405.3 L355.2,433.7 L355.7,433.7 L356.2,434.0 L356.7,434.0 L357.2,434.0 L357.7,434.0 L358.2,423.7 L358.7,423.7 L359.2,427.8 L359.7,427.8 L360.2,427.8 L360.7,427.8 L361.2,417.8 L361.7,428.7 L362.2,428.7 L362.7,428.7 L363.2,428.7 L363.7,428.7 L364.2,422.8 L364.7,423.7 L365.2,423.7 L365.7,425.3 L366.2,425.3 L366.7,425.3 L367.2,425.3 L367.7,439.5 L368.2,439.5 L368.2,494.7 L367.7,494.7 L367.2,485.3 L366.7,485.3 L366.2,485.3 L365.7,485.3 L365.2,500.0 L364.7,500.0 L364.2,494.7 L363.7,494.7 L363.2,494.7 L362.7,494.7 L362.2,493.3 L361.7,493.3 L361.2,493.3 L360.7,493.3 L360.2,508.0 L359.7,504.0 L359.2,504.0 L358.7,504.0 L358.2,504.0 L357.7,493.3 L357.2,493.3 L356.7,493.3 L356.2,493.3 L355.7,493.3 L355.2,512.0 L354.7,512.0 L354.2,498.7 L353.7,498.7 L353.2,498.7 L352.7,498.7 L352.2,509.3 L351.7,494.7 L351.2,494.7 L350.7,494.7 L350.2,489.3 L349.7,484.0 L349.2,484.0 L348.7,484.0 L348.2,484.0 L347.7,484.0 L347.2,500.0 L346.7,500.0 L346.2,497.3 L345.7,497.3 L345.2,497.3 L344.7,493.3 L344.2,493.3 L343.7,493.3 L343.2,493.3 L342.7,493.3 L342.2,494.7 L341.7,494.7 L341.2,508.0 L340.7,508.0 L340.2,513.3 L339.7,510.7 L339.2,510.7 L338.7,510.7 L338.2,500.0 L337.7,489.3 L337.2,489.3 L336.7,474.7 L336.2,474.7 L335.7,474.7 L335.2,474.7 L334.7,474.7 L334.2,497.3 L333.7,497.3 L333.2,497.3 L332.7,497.3 L332.2,497.3 L331.7,497.3 L331.2,500.0 L330.7,500.0 L330.2,500.0 L329.7,500.0 L329.2,496.0 L328.7,496.0 L328.2,496.0 L327.7,496.0 L327.2,501.3 L326.7,501.3 L326.2,501.3 L325.7,501.3 L325.2,493.3 L324.7,493.3 L324.2,493.3 L323.7,493.3 L323.2,496.0 L322.7,496.0 L322.2,498.7 L321.7,498.7 L321.2,500.0 L320.7,500.0 L320.2,512.0 L319.7,512.0 L319.2,512.0 L318.7,512.0 L318.2,505.3 L317.7,505.3 L317.2,505.3 L316.7,505.3 L316.2,510.7 L315.7,510.7 L315.2,502.7 L314.7,502.7 L314.2,502.7 L313.7,502.7 L313.2,509.3 L312.7,509.3 L312.2,477.3 L311.7,477.3 L311.2,477.3 L310.7,477.3 L310.2,488.0 L309.7,488.0 L309.2,490.7 L308.7,490.7 L308.2,506.7 L307.7,506.7 L307.2,486.7 L306.7,486.7 L306.2,486.7 L305.7,486.7 L305.2,490.7 L304.7,490.7 L304.2,505.3 L303.7,505.3 L303.2,497.3 L302.7,497.3 L302.2,496.0 L301.7,496.0 L301.2,493.3 L300.7,493.3 L300.2,493.3 L299.7,493.3 L299.2,500.0 L298.7,500.0 L298.2,495.3 L297.7,495.3 L297.2,495.3 L296.7,495.3 L296.2,496.0 L295.7,496.0 L295.2,489.3 L294.7,489.3 L294.2,489.3 L293.7,489.3 L293.2,500.0 L292.7,500.0 L292.2,502.7 L291.7,502.7 L291.2,504.0 L290.7,504.0 L290.2,506.7 L289.7,506.7 L289.2,505.3 L288.7,505.3 L288.2,484.0 L287.7,484.0 L287.2,484.0 L286.7,484.0 L286.2,497.3 L285.7,497.3 L285.2,500.0 L284.7,500.0 L284.2,506.7 L283.7,506.7 L283.2,506.7 L282.7,506.7 L282.2,494.7 L281.7,494.7 L281.2,494.7 L280.7,494.7 L280.2,506.7 L279.7,506.7 L279.2,498.7 L278.7,498.7 L278.2,498.7 L277.7,498.7 L277.2,498.7 L276.7,498.7 L276.2,516.0 L275.7,516.0 L275.2,504.0 L274.7,504.0 L274.2,504.0 L273.7,504.0 L273.2,488.0 L272.7,488.0 L272.2,488.0 L271.7,488.0 L271.2,512.0 L270.7,512.0 L270.2,506.7 L269.7,506.7 L269.2,506.7 L268.7,506.7 L268.2,510.7 L267.7,510.7 L267.2,506.7 L266.7,506.7 L266.2,504.0 L265.7,504.0 L265.2,498.7 L264.7,498.7 L264.2,498.7 L263.7,498.7 L263.2,498.7 L262.7,498.7 L262.2,492.0 L261.7,492.0 L261.2,492.0 L260.7,492.0 L260.2,498.0 L259.7,498.0 L259.2,500.0 L258.7,500.0 L258.2,500.0 L257.7,500.0 L257.2,506.7 L256.7,506.7 L256.2,496.0 L255.7,496.0 L255.2,493.3 L254.7,493.3 L254.2,493.3 L253.7,493.3 L253.2,492.0 L252.7,492.0 L252.2,489.3 L251.7,489.3 L251.2,484.0 L250.7,484.0 L250.2,484.0 L249.7,484.0 L249.2,505.3 L248.7,505.3 L248.2,508.0 L247.7,508.0 L247.2,500.0 L246.7,500.0 L246.2,497.3 L245.7,497.3 L245.2,497.3 L244.7,497.3 L244.2,497.3 L243.7,497.3 L243.2,494.0 L242.7,494.0 L242.2,492.0 L241.7,492.0 L241.2,492.0 L240.7,492.0 L240.2,500.0 L239.7,500.0 L239.2,497.3 L238.7,497.3 L238.2,494.7 L237.7,494.7 L237.2,494.7 L236.7,494.7 L236.2,497.3 L235.7,497.3 L235.2,492.0 L234.7,492.0 L234.2,492.0 L233.7,492.0 L233.2,506.0 L232.7,506.0 L232.2,507.3 L231.7,507.3 L231.2,505.3 L230.7,505.3 L230.2,500.0 L229.7,500.0 L229.2,500.0 L228.7,500.0 L228.2,509.3 L227.7,509.3 L227.2,504.0 L226.7,504.0 L226.2,504.0 L225.7,504.0 L225.2,508.0 L224.7,508.0 L224.2,505.3 L223.7,505.3 L223.2,496.0 L222.7,496.0 L222.2,496.0 L221.7,496.0 L221.2,504.0 L220.7,504.0 L220.2,504.0 L219.7,504.0 L219.2,497.3 L218.7,497.3 L218.2,497.3 L217.7,497.3 L217.2,498.7 L216.7,498.7 L216.2,492.0 L215.7,492.0 L215.2,492.0 L214.7,492.0 L214.2,496.0 L213.7,496.0 L213.2,492.0 L212.7,492.0 L212.2,492.0 L211.7,492.0 L211.2,496.0 L210.7,496.0 L210.2,496.0 L209.7,496.0 L209.2,501.3 L208.7,501.3 L208.2,505.3 L207.7,505.3 L207.2,500.0 L206.7,500.0 L206.2,500.0 L205.7,500.0 L205.2,502.7 L204.7,502.7 L204.2,493.3 L203.7,493.3 L203.2,493.3 L202.7,493.3 L202.2,489.3 L201.7,489.3 L201.2,489.3 L200.7,489.3 L200.2,500.0 L199.7,500.0 L199.2,504.0 L198.7,504.0 L198.2,502.7 L197.7,502.7 L197.2,494.7 L196.7,494.7 L196.2,494.7 L195.7,494.7 L195.2,498.7 L194.7,498.7 L194.2,498.7 L193.7,498.7 L193.2,489.3 L192.7,489.3 L192.2,489.3 L191.7,489.3 L191.2,504.0 L190.7,504.0 L190.2,505.3 L189.7,505.3 L189.2,502.7 L188.7,502.7 L188.2,502.7 L187.7,502.7 L187.2,490.7 L186.7,490.7 L186.2,486.7 L185.7,486.7 L185.2,486.7 L184.7,486.7 L184.2,498.7 L183.7,498.7 L183.2,497.3 L182.7,497.3 L182.2,488.0 L181.7,488.0 L181.2,488.0 L180.7,488.0 L180.2,500.0 L179.7,500.0 L179.2,517.3 L178.7,517.3 L178.2,494.7 L177.7,494.7 L177.2,494.7 L176.7,494.7 L176.2,501.3 L175.7,501.3 L175.2,501.3 L174.7,501.3 L174.2,510.7 L173.7,510.7 L173.2,510.7 L172.7,510.7 L172.2,494.7 L171.7,494.7 L171.2,494.7 L170.7,494.7 L170.2,497.3 L169.7,497.3 L169.2,496.0 L168.7,496.0 L168.2,486.7 L167.7,486.7 L167.2,486.7 L166.7,486.7 L166.2,500.0 L165.7,500.0 L165.2,497.3 L164.7,497.3 L164.2,497.3 L163.7,497.3 L163.2,500.0 L162.7,500.0 L162.2,504.0 L161.7,504.0 L161.2,517.3 L160.7,517.3 L160.2,510.7 L159.7,510.7 L159.2,506.7 L158.7,506.7 L158.2,498.7 L157.7,498.7 L157.2,498.7 L156.7,498.7 L156.2,510.7 L155.7,510.7 L155.2,506.7 L154.7,506.7 L154.2,506.7 L153.7,506.7 L153.2,506.7 L152.7,506.7 L152.2,494.7 L151.7,494.7 L151.2,494.7 L150.7,494.7 L150.2,502.7 L149.7,500.0 L149.2,500.0 L148.7,500.0 L148.2,500.0 L147.7,500.0 L147.2,510.7 L146.7,494.7 L146.2,494.7 L145.7,494.7 L145.2,494.7 L144.7,500.0 L144.2,500.0 L143.7,497.3 L143.2,497.3 L142.7,497.3 L142.2,497.3 L141.7,500.0 L141.2,500.0 L140.7,506.7 L140.2,506.7 L139.7,508.0 L139.2,508.0 L138.7,514.7 L138.2,514.7 L137.7,510.7 L137.2,510.7 L136.7,504.0 L136.2,504.0 L135.7,504.0 L135.2,504.0 L134.7,500.0 L134.2,500.0 L133.7,500.0 L133.2,500.0 L132.7,502.7 L132.2,502.7 L131.7,502.7 L131.2,502.7 L130.7,498.7 L130.2,498.7 L129.7,498.7 L129.2,498.7 L128.7,498.7 L128.2,498.7 L127.7,500.0 L127.2,500.0 L126.7,498.7 L126.2,498.7 L125.7,498.7 L125.2,498.7 L124.7,508.0 L124.2,508.0 L123.7,500.0 L123.2,500.0 L122.7,492.0 L122.2,492.0 L121.7,492.0 L121.2,492.0 L120.7,496.0 L120.2,496.0 L119.7,497.3 L119.2,497.3 L118.7,494.7 L118.2,494.7 L117.7,494.7 L117.2,494.7 L116.7,500.0 L116.2,500.0 L115.7,505.3 L115.2,505.3 L114.7,505.3 L114.2,504.0 L113.7,504.0 L113.2,488.0 L112.7,488.0 L112.2,488.0 L111.7,488.0 L111.2,493.3 L110.7,493.3 L110.2,493.3 L109.7,493.3 L109.2,526.7 L108.7,526.7 L108.2,525.3 L107.7,525.3 L107.2,494.7 L106.7,494.7 L106.2,494.7 L105.7,494.7 L105.2,493.3 L104.7,493.3 L104.2,493.3 L103.7,493.3 L103.2,501.3 L102.7,501.3 L102.2,501.3 L101.7,501.3 L101.2,494.7 L100.7,494.7 L100.2,494.7 L99.7,494.7 L99.2,504.0 L98.7,504.0 L98.2,504.0 L97.7,504.0 L97.2,492.0 L96.7,492.0 L96.2,492.0 L95.7,492.0 L95.2,496.0 L94.7,496.0 L94.2,496.0 L93.7,496.0 L93.2,502.7 L92.7,502.7 L92.2,488.0 L91.7,488.0 L91.2,488.0 L90.7,488.0 L90.2,510.7 L89.7,510.7 L89.2,505.3 L88.7,505.3 L88.2,505.3 L87.7,505.3 L87.2,508.0 L86.7,508.0 L86.2,497.3 L85.7,497.3 L85.2,496.7 L84.7,496.7 L84.2,496.0 L83.7,496.0 L83.2,492.0 L82.7,492.0 L82.2,492.0 L81.7,492.0 L81.2,492.0 L80.7,492.0 L80.2,506.7 L79.7,506.7 L79.2,508.0 L78.7,508.0 L78.2,504.0 L77.7,504.0 L77.2,496.0 L76.7,496.0 L76.2,494.0 L75.7,494.0 L75.2,494.0 L74.7,494.0 L74.2,500.0 L73.7,490.0 L73.2,490.0 L72.7,490.0 L72.2,490.0 L71.7,490.0Z" fill="#525252"/>
<path d="M71.50 131.7V176.8M73.30 101.7V176.8M74.30 134.0V176.8M75.50 148.0V176.8M77.00 141.7V176.8M79.30 117.5V176.8M80.50 124.0V176.8M82.00 126.0V176.8M83.30 138.0V176.8M84.70 114.0V176.8M86.00 125.0V176.8M87.20 130.0V176.8M88.30 128.0V176.8M90.20 108.0V176.8M91.30 128.0V176.8M92.50 116.0V176.8M93.80 119.0V176.8M95.20 104.0V176.8M96.30 100.0V176.8M97.70 136.0V176.8M99.70 113.0V176.8M100.80 133.0V176.8M102.00 90.0V176.8M103.70 93.0V176.8M105.00 117.5V176.8M106.30 121.7V176.8M108.00 111.7V176.8M109.70 126.7V176.8M111.00 103.3V176.8M112.70 126.7V176.8M114.30 115.8V176.8M115.50 116.7V176.8M117.50 141.7V176.8M119.70 109.0V176.8M121.00 129.0V176.8M123.00 117.5V176.8M125.00 79.2V176.8M126.30 106.7V176.8M128.00 112.5V176.8M130.50 95.0V176.8M132.20 126.7V176.8M133.80 119.0V176.8M135.00 123.0V176.8M136.30 115.8V176.8M138.00 145.0V176.8M139.70 130.0V176.8M141.00 116.7V176.8M142.70 138.0V176.8M144.30 107.0V176.8M146.00 126.7V176.8M147.70 121.7V176.8M148.50 120.8V176.8M150.00 116.7V176.8M151.30 140.8V176.8M153.00 146.7V176.8M154.70 95.8V176.8M156.00 130.8V176.8M158.00 80.0V176.8M159.30 120.8V176.8M160.50 138.3V176.8M161.80 120.8V176.8M163.30 133.3V176.8M164.70 130.5V176.8M166.00 141.7V176.8M167.70 157.7V176.8M168.80 117.5V176.8M170.20 110.0V176.8M171.30 123.3V176.8M173.00 140.0V176.8M174.70 157.7V176.8M176.30 115.0V176.8M177.70 105.0V176.8M178.80 121.7V176.8M180.00 138.3V176.8M181.30 126.7V176.8M183.00 140.0V176.8M184.30 135.0V176.8M185.50 135.0V176.8M186.80 109.2V176.8M188.20 91.7V176.8M189.30 109.2V176.8M190.50 111.7V176.8M191.70 115.8V176.8M193.00 145.0V176.8M194.20 114.2V176.8M195.50 145.0V176.8M197.20 130.0V176.8M198.80 130.0V176.8M200.20 120.0V176.8M201.30 143.3V176.8M202.50 136.7V176.8M203.80 108.3V176.8M205.20 117.5V176.8M206.30 138.3V176.8M208.00 108.3V176.8M209.30 113.3V176.8M211.00 140.0V176.8M212.20 121.7V176.8M213.50 136.7V176.8M214.70 126.7V176.8M216.30 128.3V176.8M217.70 126.7V176.8M219.00 116.3V176.8M220.50 140.0V176.8M222.20 135.0V176.8M223.80 133.3V176.8M225.00 78.3V176.8M226.30 130.0V176.8M227.70 107.5V176.8M228.50 107.5V176.8M229.30 123.3V176.8M230.30 133.3V176.8M231.30 119.2V176.8M232.50 125.0V176.8M234.00 87.0V176.8M235.30 126.7V176.8M236.30 140.0V176.8M237.70 154.2V176.8M239.20 121.7V176.8M240.50 125.0V176.8M242.20 117.5V176.8M243.80 115.0V176.8M245.20 128.3V176.8M246.30 125.8V176.8M247.50 114.2V176.8M248.50 130.0V176.8M249.70 106.3V176.8M250.70 120.0V176.8M251.70 131.7V176.8M252.70 126.3V176.8M253.80 140.0V176.8M254.70 151.4V176.8M256.00 89.2V176.8M257.30 110.8V176.8M258.30 131.3V176.8M259.70 140.8V176.8M261.00 148.6V176.8M262.20 130.0V176.8M263.50 124.2V176.8M264.70 133.3V176.8M266.00 143.3V176.8M267.20 129.2V176.8M268.50 116.7V176.8M269.70 133.3V176.8M270.80 109.2V176.8M272.00 107.5V176.8M273.30 136.7V176.8M274.70 100.0V176.8M276.00 106.7V176.8M277.30 87.5V176.8M278.50 125.0V176.8M279.70 152.6V176.8M280.80 138.3V176.8M281.80 88.7V176.8M283.00 118.3V176.8M284.20 135.0V176.8M285.50 126.7V176.8M286.70 92.0V176.8M288.00 130.8V176.8M289.30 152.9V176.8M291.00 126.7V176.8M292.30 107.5V176.8M293.50 140.0V176.8M294.70 126.7V176.8M296.00 121.7V176.8M297.20 105.0V176.8M298.30 132.5V176.8M299.70 140.0V176.8M300.80 134.2V176.8M302.00 133.3V176.8M303.30 97.2V176.8M304.70 140.0V176.8M306.00 125.8V176.8M307.20 143.3V176.8M308.70 125.3V176.8M309.70 126.7V176.8M310.80 109.2V176.8M311.70 103.3V176.8M312.70 95.3V176.8M313.70 128.3V176.8M315.00 148.5V176.8M315.80 124.2V176.8M317.20 125.8V176.8M318.70 128.3V176.8M320.00 136.7V176.8M321.30 118.3V176.8M322.30 120.0V176.8M323.30 131.7V176.8M324.70 128.3V176.8M325.80 116.7V176.8M327.00 86.3V176.8M328.30 100.0V176.8M329.30 115.8V176.8M330.30 126.7V176.8M331.70 148.6V176.8M333.00 141.7V176.8M334.20 136.7V176.8M335.00 114.2V176.8M336.00 109.2V176.8M337.00 129.2V176.8M338.00 131.7V176.8M339.00 122.5V176.8M340.00 139.2V176.8M341.20 135.8V176.8M342.30 105.0V176.8M343.70 160.0V176.8M344.70 128.3V176.8M345.70 105.0V176.8M347.30 56.3V176.8M348.70 130.0V176.8M349.50 120.8V176.8M350.30 132.5V176.8M351.70 131.7V176.8M353.00 130.0V176.8M354.20 138.3V176.8M355.20 110.0V176.8M356.20 115.0V176.8M357.50 105.8V176.8M358.70 130.0V176.8M359.70 140.0V176.8M360.70 97.5V176.8M361.70 98.3V176.8M362.80 141.7V176.8M363.80 140.0V176.8M364.70 120.8V176.8M365.50 104.2V176.8M366.70 143.3V176.8M367.50 142.5V176.8M368.40 146.0V176.8M71.30 176.8V210.7M72.40 176.8V197.0M73.30 176.8V202.7M74.30 176.8V220.7M75.30 176.8V205.3M76.30 176.8V214.7M77.30 176.8V216.0M78.30 176.8V206.7M79.30 176.8V224.0M80.30 176.8V205.3M81.30 176.8V206.7M82.70 176.8V208.0M84.00 176.8V221.3M85.00 176.8V218.7M86.10 176.8V222.7M87.10 176.8V217.3M88.00 176.8V205.3M89.10 176.8V210.7M90.00 176.8V202.7M91.30 176.8V208.0M92.70 176.8V222.7M93.70 176.8V218.7M94.70 176.8V216.7M95.70 176.8V213.3M96.70 176.8V202.7M97.70 176.8V209.3M98.90 176.8V204.0M100.00 176.8V212.0M101.10 176.8V221.3M102.00 176.8V222.7M102.90 176.8V218.7M104.00 176.8V221.3M104.90 176.8V226.7M106.00 176.8V204.0M107.10 176.8V208.0M108.00 176.8V218.7M109.10 176.8V210.7M110.00 176.8V213.3M110.90 176.8V217.3M112.00 176.8V205.3M113.10 176.8V208.0M114.00 176.8V221.3M115.10 176.8V213.3M116.00 176.8V208.0M117.10 176.8V213.3M118.00 176.8V217.3M119.10 176.8V210.7M120.00 176.8V204.0M121.10 176.8V218.7M122.00 176.8V217.3M122.90 176.8V216.0M124.00 176.8V212.0M125.10 176.8V205.3M126.30 176.8V196.0M127.30 176.8V202.7M128.30 176.8V224.0M129.30 176.8V224.0M130.30 176.8V210.7M131.30 176.8V217.3M132.40 176.8V224.0M133.30 176.8V228.0M134.30 176.8V225.3M135.30 176.8V226.7M136.30 176.8V217.3M137.30 176.8V224.0M138.30 176.8V226.7M139.30 176.8V228.0M140.30 176.8V213.3M141.30 176.8V216.0M142.30 176.8V218.7M143.30 176.8V208.0M144.70 176.8V206.7M145.70 176.8V213.3M146.90 176.8V220.0M148.70 176.8V212.0M149.60 176.8V233.3M150.70 176.8V216.0M151.70 176.8V210.7M152.70 176.8V222.7M154.00 176.8V222.7M155.30 176.8V221.3M156.70 176.8V218.7M158.00 176.8V219.3M159.30 176.8V217.3M160.70 176.8V216.0M161.70 176.8V214.7M162.90 176.8V224.7M164.00 176.8V220.0M165.10 176.8V208.0M166.10 176.8V218.7M167.30 176.8V219.3M168.70 176.8V218.7M169.70 176.8V216.0M170.70 176.8V217.3M171.70 176.8V207.3M172.70 176.8V208.0M173.60 176.8V210.7M174.70 176.8V213.3M176.00 176.8V220.7M177.30 176.8V205.3M178.90 176.8V222.7M180.30 176.8V202.0M181.30 176.8V206.7M182.40 176.8V208.7M183.30 176.8V220.0M184.70 176.8V210.0M186.00 176.8V222.7M187.10 176.8V203.3M188.00 176.8V219.3M189.10 176.8V222.7M190.10 176.8V222.7M191.30 176.8V217.3M192.70 176.8V206.7M194.00 176.8V216.0M195.30 176.8V207.3M196.30 176.8V212.7M197.30 176.8V225.3M198.40 176.8V216.0M199.50 176.8V213.3M200.70 176.8V219.3M201.70 176.8V213.3M202.70 176.8V204.0M203.70 176.8V217.3M204.70 176.8V206.0M205.70 176.8V220.7M206.70 176.8V207.3M208.00 176.8V206.0M209.30 176.8V212.0M210.70 176.8V218.7M211.70 176.8V210.7M212.90 176.8V214.7M214.00 176.8V218.7M215.10 176.8V216.0M216.30 176.8V223.3M217.30 176.8V226.7M218.30 176.8V224.0M219.30 176.8V210.7M220.30 176.8V222.7M221.30 176.8V221.3M222.70 176.8V201.3M224.00 176.8V212.0M225.30 176.8V226.7M226.70 176.8V216.0M227.60 176.8V217.3M228.70 176.8V217.3M230.00 176.8V208.0M231.30 176.8V217.3M232.70 176.8V214.0M234.00 176.8V205.3M235.30 176.8V219.3M236.30 176.8V206.7M237.30 176.8V223.3M238.70 176.8V209.3M239.70 176.8V206.0M240.90 176.8V220.0M242.00 176.8V210.7M243.10 176.8V208.0M244.00 176.8V201.3M245.10 176.8V199.3M246.30 176.8V210.7M247.30 176.8V211.3M248.70 176.8V218.0M250.00 176.8V210.7M251.30 176.8V201.3M252.30 176.8V212.0M253.30 176.8V214.7M254.40 176.8V212.0M255.60 176.8V208.0M256.70 176.8V213.3M257.60 176.8V217.3M258.70 176.8V209.3M259.70 176.8V202.7M260.70 176.8V213.3M261.70 176.8V217.3M262.90 176.8V212.0M264.00 176.8V226.7M265.10 176.8V216.0M266.30 176.8V208.0M267.30 176.8V213.3M268.30 176.8V226.7M269.30 176.8V206.7M270.40 176.8V210.7M271.70 176.8V217.3M272.80 176.8V221.3M274.00 176.8V214.7M275.10 176.8V207.3M276.00 176.8V212.7M277.10 176.8V198.0M278.30 176.8V210.7M279.30 176.8V214.7M280.40 176.8V218.7M281.30 176.8V225.3M282.40 176.8V226.7M283.50 176.8V204.0M284.70 176.8V208.0M285.70 176.8V214.7M286.80 176.8V220.0M288.00 176.8V211.3M289.10 176.8V214.7M290.10 176.8V218.7M291.20 176.8V216.0M292.30 176.8V210.7M293.30 176.8V222.7M294.40 176.8V205.3M295.50 176.8V213.3M296.50 176.8V208.0M297.60 176.8V194.0M298.70 176.8V216.0M299.70 176.8V220.0M300.70 176.8V226.7M302.00 176.8V204.0M303.30 176.8V216.0M304.40 176.8V229.3M305.60 176.8V213.3M306.70 176.8V216.0M307.70 176.8V208.0M308.70 176.8V225.3M309.70 176.8V213.3M310.70 176.8V225.3M311.70 176.8V205.3M312.90 176.8V210.7M314.00 176.8V216.0M315.10 176.8V212.0M316.00 176.8V222.7M317.10 176.8V218.7M318.00 176.8V216.0M319.10 176.8V212.0M320.00 176.8V217.3M321.10 176.8V216.0M322.10 176.8V206.7M323.30 176.8V226.7M324.40 176.8V222.7M325.30 176.8V213.3M326.40 176.8V218.7M327.50 176.8V230.0M328.50 176.8V216.0M329.60 176.8V206.7M330.70 176.8V200.0M331.70 176.8V225.3M332.80 176.8V218.7M333.90 176.8V220.0M334.90 176.8V221.3M336.00 176.8V225.3M337.10 176.8V209.3M338.10 176.8V208.0M339.20 176.8V216.0M340.00 176.8V226.7M341.10 176.8V221.3M342.10 176.8V210.7M343.20 176.8V216.0M344.30 176.8V230.0M345.30 176.8V210.7M346.40 176.8V206.7M347.50 176.8V210.7M348.50 176.8V213.3M349.60 176.8V214.7M350.70 176.8V200.0M351.70 176.8V216.0M352.80 176.8V213.3M353.90 176.8V208.0M354.90 176.8V205.3M356.00 176.8V214.7M357.10 176.8V218.7M358.10 176.8V221.3M359.20 176.8V210.7M360.30 176.8V216.0M361.30 176.8V222.7M362.40 176.8V218.7M363.50 176.8V208.0M364.50 176.8V200.0M365.60 176.8V216.0M366.70 176.8V224.0M367.70 176.8V200.0M368.50 176.8V206.0" stroke="#525252" stroke-width="1.3" fill="none"/>
<path d="M71.70 420.0V463.3M73.00 407.0V463.3M74.20 391.2V463.3M75.50 430.3V463.3M76.70 425.3V463.3M77.50 398.7V463.3M78.70 441.2V463.3M79.70 425.3V463.3M80.80 387.8V463.3M82.20 392.8V463.3M83.30 415.0V463.3M84.50 402.0V463.3M85.70 415.3V463.3M86.80 427.3V463.3M88.00 438.7V463.3M89.20 407.0V463.3M90.30 407.0V463.3M91.30 425.3V463.3M92.50 427.0V463.3M93.50 403.7V463.3M94.70 417.0V463.3M95.70 419.5V463.3M96.70 391.7V463.3M97.70 432.0V463.3M98.70 410.0V463.3M99.70 437.0V463.3M100.70 428.7V463.3M101.80 419.5V463.3M103.00 423.7V463.3M103.80 412.0V463.3M105.00 410.3V463.3M106.00 423.7V463.3M107.20 432.0V463.3M108.30 397.0V463.3M109.30 417.0V463.3M110.30 392.8V463.3M111.30 398.7V463.3M112.30 398.7V463.3M113.30 409.5V463.3M114.30 404.5V463.3M115.50 418.7V463.3M116.30 401.2V463.3M117.50 413.7V463.3M118.80 398.7V463.3M120.00 384.0V463.3M121.30 418.7V463.3M122.50 409.5V463.3M123.50 430.3V463.3M124.70 435.3V463.3M125.80 434.5V463.3M126.70 410.3V463.3M127.70 402.8V463.3M128.50 445.3V463.3M129.50 400.3V463.3M130.50 413.7V463.3M131.50 408.7V463.3M132.70 413.7V463.3M133.80 391.2V463.3M135.00 422.0V463.3M136.20 428.7V463.3M137.30 400.3V463.3M138.30 448.7V463.3M139.50 419.5V463.3M140.50 423.7V463.3M141.50 419.5V463.3M142.50 437.0V463.3M143.50 427.8V463.3M145.20 378.3V463.3M146.30 438.7V463.3M147.30 412.0V463.3M148.70 389.0V463.3M150.00 440.3V463.3M151.00 420.0V463.3M152.20 447.0V463.3M153.50 414.0V463.3M154.30 413.3V463.3M155.50 392.0V463.3M156.70 411.2V463.3M157.50 404.0V463.3M158.50 412.0V463.3M159.50 433.7V463.3M160.50 417.0V463.3M161.70 402.0V463.3M163.00 392.0V463.3M164.20 427.0V463.3M165.00 402.0V463.3M166.00 387.3V463.3M167.00 402.0V463.3M168.00 390.7V463.3M169.20 425.3V463.3M170.30 403.3V463.3M171.30 405.3V463.3M172.50 373.7V463.3M173.50 430.3V463.3M174.70 439.5V463.3M176.00 408.7V463.3M177.20 425.3V463.3M178.30 406.2V463.3M179.30 430.3V463.3M180.30 425.3V463.3M181.20 391.7V463.3M182.20 377.3V463.3M183.30 430.3V463.3M184.30 427.0V463.3M185.30 409.5V463.3M186.30 409.5V463.3M187.50 405.3V463.3M188.50 415.3V463.3M189.30 397.8V463.3M190.30 405.3V463.3M191.30 404.0V463.3M192.30 411.2V463.3M193.30 405.0V463.3M194.30 418.7V463.3M195.50 424.5V463.3M196.70 406.2V463.3M197.70 438.7V463.3M198.70 442.0V463.3M199.80 400.3V463.3M200.80 391.7V463.3M201.80 393.3V463.3M202.80 375.8V463.3M203.80 394.5V463.3M204.80 417.0V463.3M205.80 397.0V463.3M206.80 379.5V463.3M207.80 420.3V463.3M208.80 421.2V463.3M209.80 414.5V463.3M210.80 420.3V463.3M211.80 436.2V463.3M212.80 402.0V463.3M213.80 436.2V463.3M214.70 445.3V463.3M215.50 407.8V463.3M216.70 432.0V463.3M217.70 392.0V463.3M218.70 421.2V463.3M219.70 419.5V463.3M220.70 438.7V463.3M221.70 389.0V463.3M222.70 392.0V463.3M223.70 390.3V463.3M224.80 374.0V463.3M225.80 424.5V463.3M227.00 417.8V463.3M228.50 417.8V463.3M229.50 420.3V463.3M230.50 435.3V463.3M231.30 412.0V463.3M232.50 423.7V463.3M233.70 376.7V463.3M234.70 374.5V463.3M235.80 380.3V463.3M236.80 415.3V463.3M237.80 433.7V463.3M238.80 406.2V463.3M239.80 427.0V463.3M240.70 437.0V463.3M241.70 420.3V463.3M242.70 418.7V463.3M243.70 412.8V463.3M244.70 414.5V463.3M245.70 417.0V463.3M246.70 412.3V463.3M247.80 401.2V463.3M248.80 425.3V463.3M249.80 418.7V463.3M250.80 415.0V463.3M251.80 423.7V463.3M252.80 428.7V463.3M253.80 435.3V463.3M254.70 417.8V463.3M255.50 430.3V463.3M256.50 406.7V463.3M257.50 434.5V463.3M258.50 422.0V463.3M259.50 438.7V463.3M260.30 424.5V463.3M261.20 389.0V463.3M262.20 412.0V463.3M263.20 406.2V463.3M264.00 407.8V463.3M265.00 398.3V463.3M266.00 437.8V463.3M267.00 438.7V463.3M268.00 437.0V463.3M269.00 419.5V463.3M270.00 417.0V463.3M271.00 406.2V463.3M272.00 418.7V463.3M272.70 395.0V463.3M273.70 402.8V463.3M274.70 417.8V463.3M275.70 418.3V463.3M276.70 431.2V463.3M277.70 412.3V463.3M278.70 413.7V463.3M279.70 433.7V463.3M280.50 422.8V463.3M281.30 396.2V463.3M282.30 427.8V463.3M283.30 412.0V463.3M284.30 401.2V463.3M285.30 422.0V463.3M286.30 407.8V463.3M287.30 409.5V463.3M288.30 410.3V463.3M289.30 430.3V463.3M290.30 416.2V463.3M291.30 412.8V463.3M292.30 394.5V463.3M293.30 402.0V463.3M294.30 402.0V463.3M295.30 442.0V463.3M296.30 401.2V463.3M297.30 408.7V463.3M298.30 429.5V463.3M299.30 420.3V463.3M300.50 409.0V463.3M301.50 428.7V463.3M302.50 436.2V463.3M303.50 417.8V463.3M304.50 422.0V463.3M305.30 365.0V463.3M306.30 427.0V463.3M307.20 407.8V463.3M308.20 405.3V463.3M309.20 403.7V463.3M310.00 393.7V463.3M311.00 397.0V463.3M312.00 450.3V463.3M313.00 438.7V463.3M314.00 432.0V463.3M315.00 414.0V463.3M316.00 425.3V463.3M316.80 417.0V463.3M317.70 371.2V463.3M318.70 402.0V463.3M319.70 401.2V463.3M320.70 400.0V463.3M321.70 421.2V463.3M322.50 396.2V463.3M323.50 370.3V463.3M324.50 428.7V463.3M325.50 428.3V463.3M326.50 437.0V463.3M327.50 444.5V463.3M328.30 426.2V463.3M329.30 430.3V463.3M330.30 408.3V463.3M331.30 420.0V463.3M332.30 414.0V463.3M333.30 428.7V463.3M334.30 409.0V463.3M335.30 402.0V463.3M336.30 402.8V463.3M337.30 404.0V463.3M338.30 442.0V463.3M339.30 420.3V463.3M340.30 413.7V463.3M341.30 412.8V463.3M342.30 407.0V463.3M343.30 424.0V463.3M344.30 414.0V463.3M345.00 380.3V463.3M346.20 414.5V463.3M347.20 400.3V463.3M348.20 412.0V463.3M349.20 386.2V463.3M350.20 422.0V463.3M351.20 422.8V463.3M352.20 427.8V463.3M353.20 415.3V463.3M354.20 405.3V463.3M355.00 405.3V463.3M356.00 433.7V463.3M357.00 434.0V463.3M358.00 419.5V463.3M359.00 423.7V463.3M360.00 427.8V463.3M360.80 356.2V463.3M361.80 417.8V463.3M362.70 428.7V463.3M363.70 394.2V463.3M364.70 422.8V463.3M365.70 423.7V463.3M366.70 425.3V463.3M367.50 425.3V463.3M368.30 439.5V463.3M71.70 463.3V492.0M72.70 463.3V490.0M73.60 463.3V500.0M74.40 463.3V506.7M75.30 463.3V494.0M76.30 463.3V496.0M77.30 463.3V504.0M78.40 463.3V508.0M79.30 463.3V512.7M80.40 463.3V506.7M81.30 463.3V492.0M82.40 463.3V492.0M83.30 463.3V496.0M84.30 463.3V496.7M85.30 463.3V497.3M86.40 463.3V508.0M87.30 463.3V516.0M88.30 463.3V505.3M89.30 463.3V510.7M90.40 463.3V511.3M91.30 463.3V488.0M92.30 463.3V508.0M93.30 463.3V502.7M94.40 463.3V496.0M95.30 463.3V497.3M96.40 463.3V492.0M97.30 463.3V511.3M98.40 463.3V504.0M99.30 463.3V505.3M100.40 463.3V494.7M101.30 463.3V509.3M102.40 463.3V501.3M103.30 463.3V514.7M104.30 463.3V493.3M105.30 463.3V500.0M106.40 463.3V494.7M107.30 463.3V525.3M108.30 463.3V526.7M109.30 463.3V528.0M110.40 463.3V493.3M111.30 463.3V500.0M112.40 463.3V488.0M113.30 463.3V504.0M114.40 463.3V510.7M115.30 463.3V505.3M116.00 463.3V521.3M117.10 463.3V500.0M118.00 463.3V494.7M119.10 463.3V497.3M120.00 463.3V498.7M121.10 463.3V496.0M122.00 463.3V492.0M122.90 463.3V500.0M124.00 463.3V518.7M125.10 463.3V508.0M126.00 463.3V498.7M126.90 463.3V508.0M128.00 463.3V500.0M129.10 463.3V498.7M130.00 463.3V498.7M130.90 463.3V508.0M132.00 463.3V502.7M133.10 463.3V508.0M134.00 463.3V500.0M135.10 463.3V510.7M136.00 463.3V504.0M137.10 463.3V510.7M138.00 463.3V514.7M138.90 463.3V522.7M140.00 463.3V508.0M141.10 463.3V506.7M142.00 463.3V500.0M143.10 463.3V497.3M144.00 463.3V504.0M145.10 463.3V500.0M146.00 463.3V494.7M146.90 463.3V510.7M148.70 463.3V500.0M149.60 463.3V502.7M150.40 463.3V523.3M151.30 463.3V494.7M152.30 463.3V506.7M153.30 463.3V512.0M154.40 463.3V506.7M155.30 463.3V517.3M156.30 463.3V510.7M157.30 463.3V498.7M158.40 463.3V506.7M159.30 463.3V510.7M160.30 463.3V518.7M161.30 463.3V517.3M162.40 463.3V504.0M163.30 463.3V500.0M164.30 463.3V497.3M165.30 463.3V500.0M166.40 463.3V502.7M167.30 463.3V486.7M168.30 463.3V496.0M169.30 463.3V502.7M170.30 463.3V497.3M171.30 463.3V494.7M172.30 463.3V510.7M173.30 463.3V510.7M174.40 463.3V510.7M175.30 463.3V501.3M176.40 463.3V512.0M177.30 463.3V494.7M178.40 463.3V517.3M179.30 463.3V528.7M180.30 463.3V500.0M181.30 463.3V488.0M182.40 463.3V497.3M183.30 463.3V498.7M184.30 463.3V506.7M185.30 463.3V486.7M186.40 463.3V490.7M187.30 463.3V504.0M188.30 463.3V502.7M189.30 463.3V505.3M190.40 463.3V510.7M191.30 463.3V504.0M192.40 463.3V489.3M193.30 463.3V500.0M194.40 463.3V498.7M195.30 463.3V500.0M196.30 463.3V494.7M197.30 463.3V502.7M198.40 463.3V504.0M199.30 463.3V508.0M200.30 463.3V500.0M201.30 463.3V489.3M202.40 463.3V500.0M203.30 463.3V493.3M204.30 463.3V513.3M205.30 463.3V502.7M206.40 463.3V500.0M207.30 463.3V517.3M208.30 463.3V505.3M209.30 463.3V501.3M210.40 463.3V496.0M211.30 463.3V500.0M212.30 463.3V492.0M213.30 463.3V509.3M214.40 463.3V496.0M215.30 463.3V492.0M216.30 463.3V504.0M217.30 463.3V498.7M218.40 463.3V497.3M219.30 463.3V504.0M220.30 463.3V505.3M221.30 463.3V504.0M222.40 463.3V496.0M223.30 463.3V505.3M224.30 463.3V508.0M225.30 463.3V508.0M226.40 463.3V504.0M227.30 463.3V509.3M228.40 463.3V509.3M229.30 463.3V500.0M230.40 463.3V505.3M231.30 463.3V507.3M232.30 463.3V507.3M233.30 463.3V506.0M234.40 463.3V492.0M235.30 463.3V497.3M236.30 463.3V504.0M237.30 463.3V494.7M238.40 463.3V497.3M239.30 463.3V500.0M240.30 463.3V511.3M241.30 463.3V492.0M242.40 463.3V494.0M243.30 463.3V497.3M244.30 463.3V497.3M245.30 463.3V497.3M246.40 463.3V500.0M247.30 463.3V508.0M248.30 463.3V508.7M249.30 463.3V505.3M250.30 463.3V484.0M251.30 463.3V489.3M252.30 463.3V492.0M253.30 463.3V494.7M254.40 463.3V493.3M255.30 463.3V496.0M256.30 463.3V506.7M257.30 463.3V508.0M258.40 463.3V500.0M259.30 463.3V504.0M260.30 463.3V498.0M261.30 463.3V492.0M262.40 463.3V510.7M263.30 463.3V498.7M264.30 463.3V498.7M265.30 463.3V504.0M266.40 463.3V506.7M267.30 463.3V510.7M268.30 463.3V510.7M269.30 463.3V506.7M270.40 463.3V517.3M271.30 463.3V512.0M272.40 463.3V488.0M273.30 463.3V506.7M274.40 463.3V504.0M275.30 463.3V516.0M276.30 463.3V516.0M277.30 463.3V498.7M278.40 463.3V498.7M279.30 463.3V510.0M280.30 463.3V506.7M281.30 463.3V494.7M282.40 463.3V506.7M283.30 463.3V506.7M284.30 463.3V516.0M285.30 463.3V500.0M286.40 463.3V497.3M287.30 463.3V484.0M288.30 463.3V505.3M289.30 463.3V507.3M290.40 463.3V506.7M291.30 463.3V504.0M292.30 463.3V502.7M293.30 463.3V500.0M294.40 463.3V489.3M295.30 463.3V496.0M296.30 463.3V496.7M297.30 463.3V495.3M298.40 463.3V500.0M299.30 463.3V513.3M300.30 463.3V493.3M301.30 463.3V496.0M302.40 463.3V497.3M303.30 463.3V505.3M304.30 463.3V518.7M305.30 463.3V490.7M306.40 463.3V486.7M307.30 463.3V514.7M308.30 463.3V506.7M309.30 463.3V490.7M310.40 463.3V488.0M311.30 463.3V477.3M312.30 463.3V509.3M313.30 463.3V509.3M314.40 463.3V502.7M315.30 463.3V510.7M316.30 463.3V519.3M317.30 463.3V505.3M318.40 463.3V512.0M319.30 463.3V512.0M320.40 463.3V522.0M321.30 463.3V500.0M322.40 463.3V498.7M323.30 463.3V496.0M324.30 463.3V493.3M325.30 463.3V504.0M326.30 463.3V501.3M327.30 463.3V521.3M328.30 463.3V496.0M329.30 463.3V516.0M330.40 463.3V500.0M331.30 463.3V509.3M332.30 463.3V497.3M333.30 463.3V497.3M334.70 463.3V530.0M335.70 463.3V474.7M336.70 463.3V489.3M337.60 463.3V500.0M338.70 463.3V510.7M339.70 463.3V514.7M340.70 463.3V513.3M341.60 463.3V508.0M342.70 463.3V494.7M343.70 463.3V493.3M344.70 463.3V508.0M345.60 463.3V497.3M346.70 463.3V500.0M347.60 463.3V514.7M348.70 463.3V484.0M349.60 463.3V489.3M350.70 463.3V494.7M351.60 463.3V509.3M352.70 463.3V510.7M353.60 463.3V498.7M354.70 463.3V512.0M355.60 463.3V513.3M356.70 463.3V493.3M357.60 463.3V524.0M358.70 463.3V504.0M359.60 463.3V514.7M360.70 463.3V508.0M361.60 463.3V493.3M362.70 463.3V501.3M363.60 463.3V494.7M364.70 463.3V500.0M365.30 463.3V533.3M366.30 463.3V485.3M367.30 463.3V502.7M368.30 463.3V494.7" stroke="#525252" stroke-width="1.3" fill="none"/>
<path d="M71.50 136.9V157.3M73.97 141.6V164.5M86.82 137.3V162.2M90.56 110.5V157.4M91.27 135.3V165.4M93.38 125.9V164.1M101.07 135.3V158.1M102.20 94.5V167.2M103.48 100.8V168.3M119.57 111.1V169.0M123.00 119.1V164.3M124.65 84.1V164.6M130.33 98.8V168.0M136.56 118.5V158.7M153.13 150.1V166.0M171.31 130.3V159.1M182.69 143.5V163.1M209.00 118.5V161.8M230.87 124.4V159.7M235.37 127.7V161.6M254.10 142.9V157.4M254.98 155.9V168.7M256.08 92.4V161.6M258.05 138.7V160.4M301.70 135.9V161.3M310.61 111.8V160.7M312.54 102.1V157.1M332.06 158.1V167.5M341.54 138.8V158.3M364.76 124.9V157.9M368.02 148.3V159.6" stroke="#fff" stroke-opacity="0.2" stroke-width="0.9" fill="none"/><path d="M78.97 124.0V165.0M84.75 118.4V161.2M86.27 132.1V158.5M92.19 124.0V162.5M97.92 138.4V157.7M106.52 123.0V157.8M108.31 117.9V163.5M114.41 117.8V162.3M120.87 130.4V167.4M132.26 134.4V167.9M134.08 124.8V158.7M135.27 129.0V166.7M139.80 135.2V159.9M144.57 110.9V163.6M148.13 123.4V160.9M148.19 127.4V166.4M155.04 101.6V165.9M165.04 134.1V158.1M170.31 113.9V163.3M176.23 117.5V165.6M177.48 112.1V166.2M184.05 138.7V165.9M199.16 137.1V168.6M202.31 142.7V160.9M207.99 110.4V168.2M222.47 137.7V157.4M245.86 128.2V161.9M250.86 121.3V160.0M262.09 136.0V166.5M267.55 135.1V163.9M284.22 138.3V164.7M286.70 95.6V167.7M295.10 133.1V163.8M302.87 104.7V161.3M315.38 156.7V163.2M323.73 135.8V158.9M337.64 136.6V168.5M338.65 126.6V162.8M346.05 107.7V159.2M354.51 142.1V160.8M354.77 112.9V164.2M362.41 148.0V159.4M365.36 110.1V159.0" stroke="#fff" stroke-opacity="0.3" stroke-width="0.9" fill="none"/><path d="M94.83 106.2V157.3M160.55 145.0V165.5M172.96 147.8V157.5M185.09 139.2V167.5M194.27 115.8V165.0M210.90 145.1V163.2M228.06 112.6V163.4M232.39 128.4V163.8M237.75 159.4V166.0M244.15 121.2V168.3M263.21 130.5V165.5M269.77 137.7V165.5M278.46 129.6V166.7M299.27 145.7V162.7M301.09 142.1V167.8M314.03 133.7V165.7M317.18 127.1V160.5M328.43 107.5V165.0" stroke="#fff" stroke-opacity="0.4" stroke-width="0.9" fill="none"/>
<path d="M121.60 203.6V213.1M152.86 196.3V216.6M161.07 202.8V209.8M163.66 198.0V218.7M169.60 201.0V214.4M170.34 205.2V213.6M175.95 205.9V215.6M198.22 203.2V214.6M221.46 203.4V217.2M290.00 202.1V214.8M326.64 197.0V215.7" stroke="#fff" stroke-opacity="0.2" stroke-width="0.9" fill="none"/><path d="M71.04 201.8V208.1M76.91 200.4V211.9M101.13 202.5V219.5M196.28 198.6V208.5M213.78 203.3V215.4M216.39 202.2V221.5M234.13 197.4V201.5M272.49 196.3V216.4M286.67 200.3V218.3" stroke="#fff" stroke-opacity="0.3" stroke-width="0.9" fill="none"/><path d="M74.09 201.8V218.5M275.74 203.0V209.8M341.33 204.9V217.8" stroke="#fff" stroke-opacity="0.4" stroke-width="0.9" fill="none"/>
<path d="M72.59 414.4V435.2M92.75 433.7V436.9M95.37 420.9V437.2M144.78 385.8V434.9M181.61 398.0V439.8M186.52 416.6V437.7M192.11 415.7V439.0M193.16 407.3V443.2M200.69 396.1V436.5M244.65 416.0V440.9M249.88 425.3V443.9M250.42 417.4V432.3M256.56 414.0V432.1M261.78 413.2V435.3M269.71 424.0V437.6M297.29 415.3V436.6M311.19 400.0V438.7M316.14 430.9V439.1M316.85 418.4V443.0M336.72 408.3V439.5M345.42 385.3V436.1M354.26 409.4V434.0" stroke="#fff" stroke-opacity="0.2" stroke-width="0.9" fill="none"/><path d="M90.16 413.1V442.3M93.62 409.1V432.0M98.60 411.0V435.4M103.94 417.1V434.6M105.33 413.3V434.0M115.51 426.1V439.9M119.68 387.0V433.7M122.12 412.8V440.2M127.89 409.2V442.9M133.40 395.0V442.2M147.52 419.4V440.3M157.50 406.7V435.4M161.87 408.2V433.7M163.24 395.0V440.3M165.30 405.5V441.2M188.08 422.9V442.0M204.39 423.8V432.8M208.15 422.2V434.1M208.88 426.9V433.5M215.18 412.7V441.3M222.00 393.2V440.1M225.07 378.1V437.3M240.16 430.9V436.1M247.99 404.0V437.3M272.36 423.0V443.0M281.63 400.7V439.5M282.86 418.8V439.9M284.04 406.6V441.0M287.26 412.8V440.8M292.45 398.1V433.2M323.43 377.8V440.0M341.22 416.6V436.8M348.08 416.0V433.0M364.89 430.2V440.3" stroke="#fff" stroke-opacity="0.3" stroke-width="0.9" fill="none"/><path d="M114.54 405.6V434.3M153.55 419.1V435.5M153.98 416.5V436.1M156.60 412.9V440.5M196.70 411.1V432.6M217.37 394.6V434.4M219.82 423.7V432.3M232.89 427.7V436.6M247.02 419.7V435.5M260.99 390.5V438.5M269.14 422.5V437.6M295.93 407.1V439.4M317.66 372.9V442.6M330.57 410.3V434.3M331.12 427.4V437.0M339.97 415.2V437.0M343.57 428.6V436.2M345.97 417.5V436.1" stroke="#fff" stroke-opacity="0.4" stroke-width="0.9" fill="none"/>
<path d="M73.20 485.8V497.1M108.63 478.4V522.7M111.68 484.7V498.9M137.93 478.3V511.8M151.04 484.9V492.9M157.11 482.6V491.1M164.53 485.3V490.1M183.07 476.6V494.2M195.46 476.9V498.1M230.57 485.7V499.8M234.24 481.7V484.7M244.52 484.4V492.1M246.11 482.9V495.4M260.39 478.5V491.7M263.88 481.9V494.1M265.55 484.6V500.7M286.26 478.2V493.0M289.45 482.2V503.8M290.61 487.9V501.7M297.36 476.5V491.2M300.41 480.0V486.6M301.54 477.6V491.3M305.74 480.2V487.9M315.05 484.4V508.7M343.64 479.8V486.8M365.39 482.7V526.4" stroke="#fff" stroke-opacity="0.2" stroke-width="0.9" fill="none"/><path d="M76.10 476.6V493.2M80.71 479.4V504.8M107.57 486.6V518.4M113.66 481.6V501.9M124.32 484.8V514.0M130.86 485.8V503.3M158.01 483.4V503.4M169.33 485.5V497.8M172.18 485.5V506.4M179.02 478.5V526.0M203.38 487.6V491.1M205.04 482.9V499.5M214.52 478.2V494.9M225.42 477.1V505.2M234.96 480.3V495.6M237.17 481.4V490.3M258.25 479.3V495.3M262.56 483.3V509.3M276.02 477.2V514.6M284.27 484.3V511.2M357.91 481.6V519.8" stroke="#fff" stroke-opacity="0.3" stroke-width="0.9" fill="none"/><path d="M86.86 485.8V511.5M98.76 486.7V502.9M99.53 479.3V502.3M122.84 482.6V495.3M232.68 477.2V500.9M233.53 484.3V503.3M313.59 486.9V507.8M322.10 485.2V492.7M329.13 487.4V512.3M344.68 476.2V500.4" stroke="#fff" stroke-opacity="0.4" stroke-width="0.9" fill="none"/>
<path d="M59.8 176.8H380M59.8 463.3H380" stroke="#f00" stroke-width="1.25" stroke-dasharray="6.67 6.67" stroke-linecap="round" fill="none"/>
<path d="M459.8 233.3H780M459.8 533.3H780" stroke="#bebebe" stroke-width="0.3" fill="none"/>
<path d="M471.20,233.10 C472.95,233.02 478.85,232.90 481.70,232.60 C484.55,232.30 486.50,232.02 488.30,231.30 C490.10,230.58 490.83,230.05 492.50,228.30 C494.17,226.55 496.22,223.72 498.30,220.80 C500.38,217.88 503.05,213.85 505.00,210.80 C506.95,207.75 508.62,205.42 510.00,202.50 C511.38,199.58 512.18,196.50 513.30,193.30 C514.42,190.10 515.58,186.63 516.70,183.30 C517.82,179.97 518.90,177.05 520.00,173.30 C521.10,169.55 522.33,164.77 523.30,160.80 C524.27,156.83 524.68,153.80 525.80,149.50 C526.92,145.20 528.60,139.63 530.00,135.00 C531.40,130.37 532.82,126.42 534.20,121.70 C535.58,116.98 537.05,111.43 538.30,106.70 C539.55,101.97 540.58,97.75 541.70,93.30 C542.82,88.85 543.90,83.33 545.00,80.00 C546.10,76.67 546.92,75.52 548.30,73.30 C549.68,71.08 551.77,68.92 553.30,66.70 C554.83,64.48 556.17,61.62 557.50,60.00 C558.83,58.38 560.30,57.60 561.30,57.00 C562.30,56.40 562.75,56.35 563.50,56.40 C564.25,56.45 564.85,56.57 565.80,57.30 C566.75,58.03 568.22,59.38 569.20,60.80 C570.18,62.22 570.73,63.15 571.70,65.80 C572.67,68.45 573.90,73.08 575.00,76.70 C576.10,80.32 577.18,84.45 578.30,87.50 C579.42,90.55 580.30,92.37 581.70,95.00 C583.10,97.63 585.03,100.38 586.70,103.30 C588.37,106.22 590.15,109.38 591.70,112.50 C593.25,115.62 594.70,118.75 596.00,122.00 C597.30,125.25 598.30,128.58 599.50,132.00 C600.70,135.42 602.20,139.75 603.20,142.50 C604.20,145.25 604.37,146.25 605.50,148.50 C606.63,150.75 608.63,153.50 610.00,156.00 C611.37,158.50 612.45,160.50 613.70,163.50 C614.95,166.50 616.25,170.75 617.50,174.00 C618.75,177.25 619.70,180.00 621.20,183.00 C622.70,186.00 624.75,189.25 626.50,192.00 C628.25,194.75 629.70,197.38 631.70,199.50 C633.70,201.62 636.37,203.08 638.50,204.70 C640.63,206.32 642.75,207.78 644.50,209.20 C646.25,210.62 647.08,211.90 649.00,213.20 C650.92,214.50 654.17,215.98 656.00,217.00 C657.83,218.02 658.58,218.34 660.00,219.30 C661.42,220.26 662.75,221.50 664.50,222.75 C666.25,224.00 668.25,225.98 670.50,226.80 C672.75,227.62 675.75,227.20 678.00,227.70 C680.25,228.20 682.00,229.17 684.00,229.80 C686.00,230.43 687.50,231.15 690.00,231.50 C692.50,231.85 695.50,231.72 699.00,231.90 C702.50,232.08 707.50,232.45 711.00,232.60 C714.50,232.75 716.75,232.72 720.00,232.80 C723.25,232.88 725.50,233.07 730.50,233.10 C735.50,233.13 743.75,233.00 750.00,233.00 C756.25,233.00 765.00,233.08 768.00,233.10" stroke="#000" stroke-width="1.25" fill="none" stroke-linejoin="round"/>
<path d="M471.40,533.30 C473.38,533.22 479.17,533.25 483.30,532.80 C487.43,532.35 492.22,531.22 496.20,530.60 C500.18,529.98 504.45,529.97 507.20,529.10 C509.95,528.23 511.02,527.23 512.70,525.40 C514.38,523.57 515.77,521.15 517.30,518.10 C518.83,515.05 520.52,510.02 521.90,507.10 C523.28,504.18 524.38,502.60 525.60,500.60 C526.82,498.60 527.98,497.38 529.20,495.10 C530.42,492.82 531.67,490.10 532.90,486.90 C534.13,483.70 535.38,479.57 536.60,475.90 C537.82,472.23 538.80,468.60 540.20,464.90 C541.60,461.20 543.58,456.65 545.00,453.70 C546.42,450.75 547.48,450.42 548.70,447.20 C549.92,443.98 551.23,438.98 552.30,434.40 C553.37,429.82 554.18,424.60 555.10,419.70 C556.02,414.80 556.88,409.12 557.80,405.00 C558.72,400.88 559.68,397.43 560.60,395.00 C561.52,392.57 562.08,392.08 563.30,390.40 C564.52,388.72 566.37,387.35 567.90,384.90 C569.43,382.45 570.97,378.77 572.50,375.70 C574.03,372.63 575.57,369.32 577.10,366.50 C578.63,363.68 580.48,360.42 581.70,358.80 C582.92,357.18 583.18,356.88 584.40,356.80 C585.62,356.72 587.47,357.90 589.00,358.30 C590.53,358.70 592.07,358.90 593.60,359.20 C595.13,359.50 596.67,359.50 598.20,360.10 C599.73,360.70 601.42,361.12 602.80,362.80 C604.18,364.48 605.28,366.83 606.50,370.20 C607.72,373.57 608.88,378.72 610.10,383.00 C611.32,387.28 612.70,391.95 613.80,395.90 C614.90,399.85 615.38,404.30 616.70,406.70 C618.02,409.10 620.18,409.05 621.70,410.30 C623.22,411.55 624.70,412.30 625.80,414.20 C626.90,416.10 627.32,418.52 628.30,421.70 C629.28,424.88 630.58,429.42 631.70,433.30 C632.82,437.18 633.90,441.38 635.00,445.00 C636.10,448.62 637.18,451.80 638.30,455.00 C639.42,458.20 640.45,461.28 641.70,464.20 C642.95,467.12 644.13,469.87 645.80,472.50 C647.47,475.13 649.62,477.08 651.70,480.00 C653.78,482.92 656.37,486.95 658.30,490.00 C660.23,493.05 661.30,495.38 663.30,498.30 C665.30,501.22 668.35,505.18 670.30,507.50 C672.25,509.82 673.28,510.57 675.00,512.20 C676.72,513.83 678.42,515.90 680.60,517.30 C682.78,518.70 685.60,519.35 688.10,520.60 C690.60,521.85 692.78,523.48 695.60,524.80 C698.42,526.12 702.18,527.47 705.00,528.50 C707.82,529.53 709.37,530.50 712.50,531.00 C715.63,531.50 719.42,531.27 723.80,531.50 C728.18,531.73 734.12,532.18 738.80,532.40 C743.48,532.62 747.07,532.73 751.90,532.80 C756.73,532.87 765.15,532.80 767.80,532.80" stroke="#000" stroke-width="1.25" fill="none" stroke-linejoin="round"/>
<path d="M512.60 239.90V49.80" stroke="#00f" stroke-width="1.25" stroke-dasharray="6.67 6.67" stroke-linecap="round" fill="none"/>
<path d="M571.40 239.90V49.80" stroke="#f00" stroke-width="1.25" stroke-dasharray="6.67 6.67" stroke-linecap="round" fill="none"/>
<path d="M650.80 239.90V49.80" stroke="#00f" stroke-width="1.25" stroke-dasharray="6.67 6.67" stroke-linecap="round" fill="none"/>
<path d="M528.30 539.90V349.80" stroke="#00f" stroke-width="1.25" stroke-dasharray="6.67 6.67" stroke-linecap="round" fill="none"/>
<path d="M595.00 539.90V349.80" stroke="#f00" stroke-width="1.25" stroke-dasharray="6.67 6.67" stroke-linecap="round" fill="none"/>
<path d="M674.70 539.90V349.80" stroke="#00f" stroke-width="1.25" stroke-dasharray="6.67 6.67" stroke-linecap="round" fill="none"/>
</svg>
</body></html>
